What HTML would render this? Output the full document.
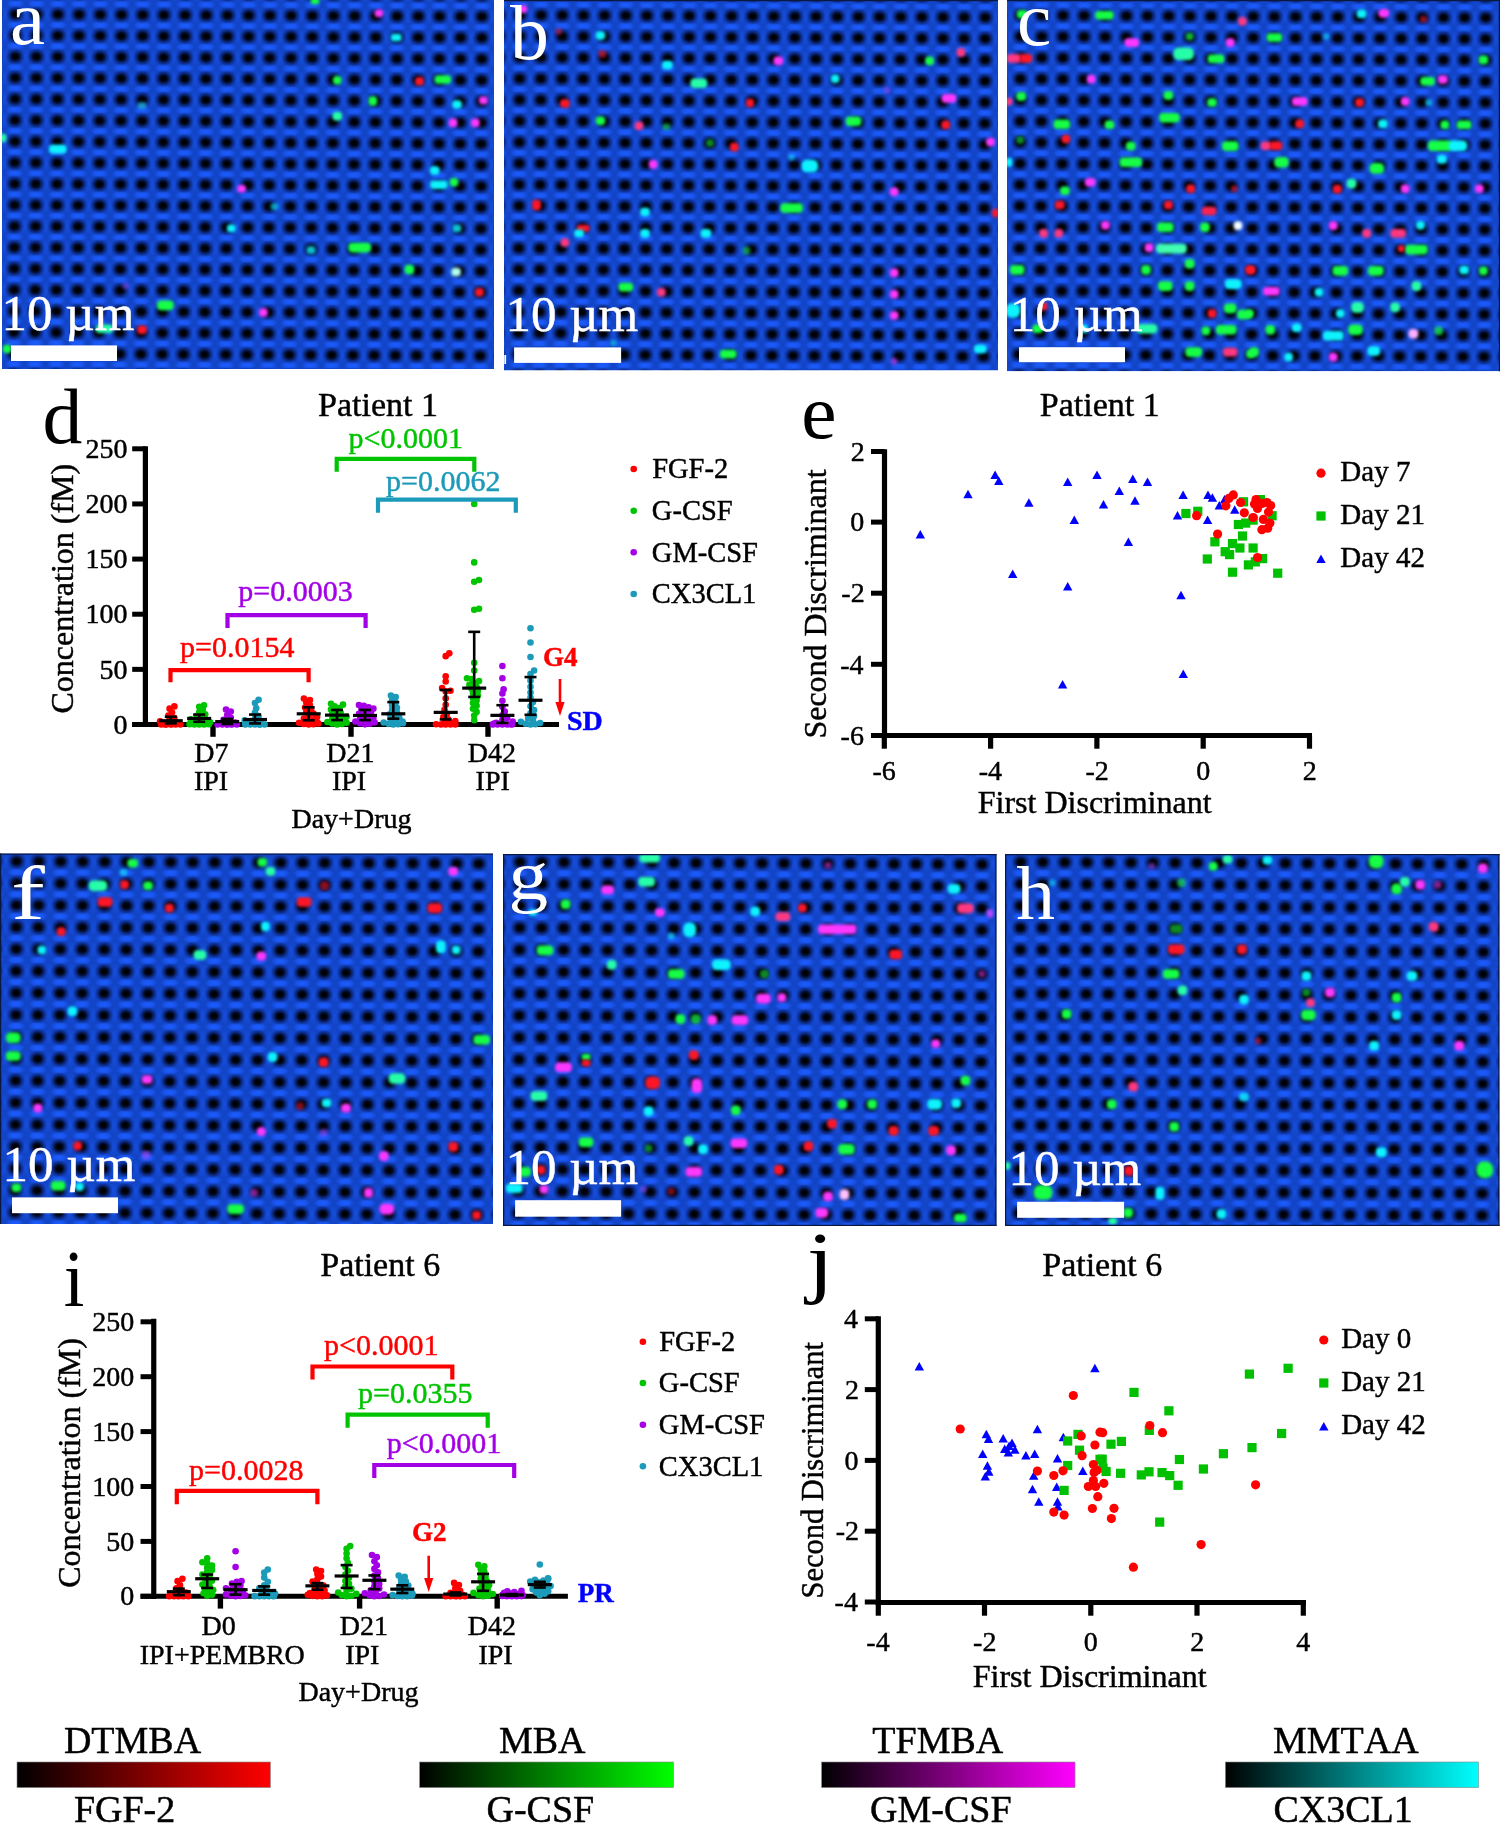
<!DOCTYPE html>
<html><head><meta charset="utf-8"><style>
html,body{margin:0;padding:0;background:#fff;}
body{width:1500px;height:1823px;overflow:hidden;}
svg{display:block;font-family:"Liberation Serif",serif;font-kerning:none;will-change:transform;}
text{stroke:currentColor;}
</style></head><body>
<svg width="1500" height="1823" viewBox="0 0 1500 1823">
<defs>
<radialGradient id="gHole"><stop offset="0" stop-color="#000" stop-opacity="0.92"/><stop offset="0.4" stop-color="#010620" stop-opacity="0.8"/><stop offset="0.7" stop-color="#041040" stop-opacity="0.42"/><stop offset="1" stop-color="#06104a" stop-opacity="0"/></radialGradient>
<radialGradient id="gLight"><stop offset="0" stop-color="#1c5cff" stop-opacity="1"/><stop offset="0.5" stop-color="#1c5cff" stop-opacity="0.75"/><stop offset="1" stop-color="#1c5cff" stop-opacity="0"/></radialGradient>
<radialGradient id="gLight2"><stop offset="0" stop-color="#164fe0" stop-opacity="0.9"/><stop offset="1" stop-color="#164fe0" stop-opacity="0"/></radialGradient>
<linearGradient id="gBandT" x1="0" x2="0" y1="0" y2="1"><stop offset="0" stop-color="#1c5cff" stop-opacity="0.85"/><stop offset="1" stop-color="#1c5cff" stop-opacity="0"/></linearGradient>
<linearGradient id="gBandB" x1="0" x2="0" y1="0" y2="1"><stop offset="0" stop-color="#1c5cff" stop-opacity="0"/><stop offset="1" stop-color="#1c5cff" stop-opacity="0.85"/></linearGradient>
<filter id="blurH" x="-50%" y="-50%" width="200%" height="200%"><feGaussianBlur stdDeviation="1.35"/></filter>
<filter id="blurS" x="-50%" y="-50%" width="200%" height="200%"><feGaussianBlur stdDeviation="1.8"/></filter>

<pattern id="pat_a" patternUnits="userSpaceOnUse" width="21.2" height="21.2" patternTransform="translate(15.5,14.2) rotate(0.3) translate(-10.6,-10.6)"><rect x="0" y="0" width="21.2" height="21.2" fill="#1244c6"/><ellipse cx="0" cy="10.6" rx="5" ry="9" fill="url(#gLight2)"/><ellipse cx="21.2" cy="10.6" rx="5" ry="9" fill="url(#gLight2)"/><ellipse cx="10.6" cy="0" rx="9.5" ry="4.6" fill="url(#gLight)"/><ellipse cx="10.6" cy="21.2" rx="9.5" ry="4.6" fill="url(#gLight)"/><ellipse cx="10.6" cy="10.6" rx="9.6" ry="8.8" fill="url(#gHole)"/><rect x="7.10" y="7.60" width="7.0" height="6.0" rx="1.6" fill="#000" filter="url(#blurH)"/></pattern>
<clipPath id="clip_a"><rect x="2" y="0" width="492" height="369"/></clipPath>
<pattern id="pat_b" patternUnits="userSpaceOnUse" width="21.15" height="21.2" patternTransform="translate(520,15) rotate(0.3) translate(-10.575,-10.6)"><rect x="0" y="0" width="21.15" height="21.2" fill="#1244c6"/><ellipse cx="0" cy="10.6" rx="5" ry="9" fill="url(#gLight2)"/><ellipse cx="21.15" cy="10.6" rx="5" ry="9" fill="url(#gLight2)"/><ellipse cx="10.575" cy="0" rx="9.5" ry="4.6" fill="url(#gLight)"/><ellipse cx="10.575" cy="21.2" rx="9.5" ry="4.6" fill="url(#gLight)"/><ellipse cx="10.575" cy="10.6" rx="9.6" ry="8.8" fill="url(#gHole)"/><rect x="7.07" y="7.60" width="7.0" height="6.0" rx="1.6" fill="#000" filter="url(#blurH)"/></pattern>
<clipPath id="clip_b"><rect x="504" y="0" width="494" height="370.5"/></clipPath>
<pattern id="pat_c" patternUnits="userSpaceOnUse" width="21.14" height="21.19" patternTransform="translate(1020.7,15.3) rotate(0.3) translate(-10.57,-10.595)"><rect x="0" y="0" width="21.14" height="21.19" fill="#1244c6"/><ellipse cx="0" cy="10.595" rx="5" ry="9" fill="url(#gLight2)"/><ellipse cx="21.14" cy="10.595" rx="5" ry="9" fill="url(#gLight2)"/><ellipse cx="10.57" cy="0" rx="9.5" ry="4.6" fill="url(#gLight)"/><ellipse cx="10.57" cy="21.19" rx="9.5" ry="4.6" fill="url(#gLight)"/><ellipse cx="10.57" cy="10.595" rx="9.6" ry="8.8" fill="url(#gHole)"/><rect x="7.07" y="7.60" width="7.0" height="6.0" rx="1.6" fill="#000" filter="url(#blurH)"/></pattern>
<clipPath id="clip_c"><rect x="1007" y="0" width="493" height="371.3"/></clipPath>
<pattern id="pat_f" patternUnits="userSpaceOnUse" width="22.0" height="21.94" patternTransform="translate(16.7,861.3) rotate(0.3) translate(-11.0,-10.97)"><rect x="0" y="0" width="22.0" height="21.94" fill="#1244c6"/><ellipse cx="0" cy="10.97" rx="5" ry="9" fill="url(#gLight2)"/><ellipse cx="22.0" cy="10.97" rx="5" ry="9" fill="url(#gLight2)"/><ellipse cx="11.0" cy="0" rx="9.5" ry="4.6" fill="url(#gLight)"/><ellipse cx="11.0" cy="21.94" rx="9.5" ry="4.6" fill="url(#gLight)"/><ellipse cx="11.0" cy="10.97" rx="9.6" ry="8.8" fill="url(#gHole)"/><rect x="7.50" y="7.97" width="7.0" height="6.0" rx="1.6" fill="#000" filter="url(#blurH)"/></pattern>
<clipPath id="clip_f"><rect x="0" y="853.5" width="493" height="370.5"/></clipPath>
<pattern id="pat_g" patternUnits="userSpaceOnUse" width="22.0" height="21.95" patternTransform="translate(520,862) rotate(0.3) translate(-11.0,-10.975)"><rect x="0" y="0" width="22.0" height="21.95" fill="#1244c6"/><ellipse cx="0" cy="10.975" rx="5" ry="9" fill="url(#gLight2)"/><ellipse cx="22.0" cy="10.975" rx="5" ry="9" fill="url(#gLight2)"/><ellipse cx="11.0" cy="0" rx="9.5" ry="4.6" fill="url(#gLight)"/><ellipse cx="11.0" cy="21.95" rx="9.5" ry="4.6" fill="url(#gLight)"/><ellipse cx="11.0" cy="10.975" rx="9.6" ry="8.8" fill="url(#gHole)"/><rect x="7.50" y="7.97" width="7.0" height="6.0" rx="1.6" fill="#000" filter="url(#blurH)"/></pattern>
<clipPath id="clip_g"><rect x="503" y="854" width="493.5" height="372"/></clipPath>
<pattern id="pat_h" patternUnits="userSpaceOnUse" width="22.05" height="21.95" patternTransform="translate(1020.7,862) rotate(0.28) translate(-11.025,-10.975)"><rect x="0" y="0" width="22.05" height="21.95" fill="#1244c6"/><ellipse cx="0" cy="10.975" rx="5" ry="9" fill="url(#gLight2)"/><ellipse cx="22.05" cy="10.975" rx="5" ry="9" fill="url(#gLight2)"/><ellipse cx="11.025" cy="0" rx="9.5" ry="4.6" fill="url(#gLight)"/><ellipse cx="11.025" cy="21.95" rx="9.5" ry="4.6" fill="url(#gLight)"/><ellipse cx="11.025" cy="10.975" rx="9.6" ry="8.8" fill="url(#gHole)"/><rect x="7.53" y="7.97" width="7.0" height="6.0" rx="1.6" fill="#000" filter="url(#blurH)"/></pattern>
<clipPath id="clip_h"><rect x="1005" y="854" width="494.5" height="372"/></clipPath>
<linearGradient id="cb0" x1="0" x2="1" y1="0" y2="0"><stop offset="0" stop-color="#000"/><stop offset="1" stop-color="#ff0000"/></linearGradient>
<linearGradient id="cb1" x1="0" x2="1" y1="0" y2="0"><stop offset="0" stop-color="#000"/><stop offset="1" stop-color="#00ff00"/></linearGradient>
<linearGradient id="cb2" x1="0" x2="1" y1="0" y2="0"><stop offset="0" stop-color="#000"/><stop offset="1" stop-color="#ff00ff"/></linearGradient>
<linearGradient id="cb3" x1="0" x2="1" y1="0" y2="0"><stop offset="0" stop-color="#000"/><stop offset="1" stop-color="#00ffff"/></linearGradient></defs>
<g clip-path="url(#clip_a)">
<rect x="2" y="0" width="492" height="369" fill="url(#pat_a)"/>
<rect x="49.0" y="144.8" width="17.6" height="8.6" rx="3.7" fill="#10f4ff" filter="url(#blurS)"/>
<rect x="137.7" y="102.2" width="8.6" height="6.6" rx="2.8" fill="#20c0e0" opacity="0.7" filter="url(#blurS)"/>
<rect x="-0.3" y="133.7" width="6.6" height="8.6" rx="2.8" fill="#28ffa8" filter="url(#blurS)"/>
<rect x="237.2" y="184.9" width="8.6" height="7.6" rx="3.2" fill="#ff38ff" filter="url(#blurS)"/>
<rect x="227.0" y="224.5" width="8.6" height="7.6" rx="3.2" fill="#10f4ff" filter="url(#blurS)"/>
<rect x="122.5" y="282.7" width="6.6" height="6.6" rx="2.8" fill="#b048ff" opacity="0.4" filter="url(#blurS)"/>
<rect x="157.1" y="300.6" width="16.6" height="9.6" rx="4.1" fill="#14ff44" filter="url(#blurS)"/>
<rect x="95.7" y="324.4" width="17.6" height="8.6" rx="3.7" fill="#28ffa8" filter="url(#blurS)"/>
<rect x="137.2" y="325.4" width="9.6" height="8.6" rx="3.7" fill="#ff1428" filter="url(#blurS)"/>
<rect x="2.8" y="344.7" width="8.6" height="8.6" rx="3.7" fill="#14ff44" filter="url(#blurS)"/>
<rect x="310.7" y="-2.3" width="8.6" height="6.6" rx="2.8" fill="#14ff44" filter="url(#blurS)"/>
<rect x="374.7" y="9.4" width="8.6" height="7.6" rx="3.2" fill="#ff38ff" filter="url(#blurS)"/>
<rect x="390.9" y="33.7" width="10.6" height="7.6" rx="3.2" fill="#10f4ff" filter="url(#blurS)"/>
<rect x="333.0" y="75.9" width="8.6" height="8.6" rx="3.7" fill="#14ff44" filter="url(#blurS)"/>
<rect x="415.2" y="76.9" width="8.6" height="8.6" rx="3.7" fill="#ff1428" filter="url(#blurS)"/>
<rect x="434.5" y="75.2" width="16.6" height="8.6" rx="3.7" fill="#14ff44" filter="url(#blurS)"/>
<rect x="368.5" y="96.2" width="8.6" height="9.6" rx="3.7" fill="#14ff44" filter="url(#blurS)"/>
<rect x="452.2" y="100.2" width="9.6" height="8.6" rx="3.7" fill="#10f4ff" filter="url(#blurS)"/>
<rect x="479.1" y="96.6" width="8.6" height="7.6" rx="3.2" fill="#ff38ff" filter="url(#blurS)"/>
<rect x="332.5" y="111.8" width="9.6" height="8.6" rx="3.7" fill="#28ffa8" filter="url(#blurS)"/>
<rect x="448.7" y="118.5" width="8.6" height="8.6" rx="3.7" fill="#ff38ff" filter="url(#blurS)"/>
<rect x="471.0" y="118.5" width="8.6" height="8.6" rx="3.7" fill="#ff38ff" filter="url(#blurS)"/>
<rect x="429.9" y="166.2" width="9.6" height="8.6" rx="3.7" fill="#10f4ff" filter="url(#blurS)"/>
<rect x="430.0" y="180.4" width="17.6" height="8.6" rx="3.7" fill="#10f4ff" filter="url(#blurS)"/>
<rect x="449.7" y="177.9" width="8.6" height="8.6" rx="3.7" fill="#14ff44" filter="url(#blurS)"/>
<rect x="270.6" y="203.3" width="7.6" height="6.6" rx="2.8" fill="#10f4ff" opacity="0.6" filter="url(#blurS)"/>
<rect x="452.7" y="224.5" width="8.6" height="7.6" rx="3.2" fill="#10f4ff" opacity="0.8" filter="url(#blurS)"/>
<rect x="306.7" y="246.2" width="8.6" height="7.6" rx="3.2" fill="#10f4ff" opacity="0.8" filter="url(#blurS)"/>
<rect x="348.4" y="242.8" width="22.6" height="9.6" rx="4.1" fill="#14ff44" filter="url(#blurS)"/>
<rect x="404.6" y="264.7" width="9.6" height="9.6" rx="4.1" fill="#14ff44" filter="url(#blurS)"/>
<rect x="451.2" y="267.7" width="9.6" height="8.6" rx="3.7" fill="#b0fff0" filter="url(#blurS)"/>
<rect x="475.1" y="287.9" width="8.6" height="8.6" rx="3.7" fill="#ff1428" filter="url(#blurS)"/>
<rect x="259.0" y="308.2" width="8.6" height="8.6" rx="3.7" fill="#ff38ff" filter="url(#blurS)"/>
</g>
<g clip-path="url(#clip_b)">
<rect x="504" y="0" width="494" height="370.5" fill="url(#pat_b)"/>
<rect x="519.5" y="5.3" width="7.6" height="7.6" rx="3.2" fill="#ff38ff" filter="url(#blurS)"/>
<rect x="555.5" y="28.2" width="6.6" height="6.6" rx="2.8" fill="#ff1428" opacity="0.5" filter="url(#blurS)"/>
<rect x="595.6" y="31.2" width="9.6" height="8.6" rx="3.7" fill="#10f4ff" filter="url(#blurS)"/>
<rect x="598.6" y="50.0" width="7.6" height="7.6" rx="3.2" fill="#ff1428" opacity="0.6" filter="url(#blurS)"/>
<rect x="662.1" y="60.7" width="10.6" height="8.6" rx="3.7" fill="#10f4ff" filter="url(#blurS)"/>
<rect x="690.5" y="78.4" width="16.6" height="9.6" rx="4.1" fill="#28ffa8" filter="url(#blurS)"/>
<rect x="560.1" y="99.2" width="9.6" height="8.6" rx="3.7" fill="#ff1428" filter="url(#blurS)"/>
<rect x="746.2" y="98.7" width="7.6" height="8.6" rx="3.2" fill="#ff1428" filter="url(#blurS)"/>
<rect x="595.6" y="116.4" width="9.6" height="8.6" rx="3.7" fill="#14ff44" filter="url(#blurS)"/>
<rect x="634.7" y="121.5" width="8.6" height="8.6" rx="3.7" fill="#ff3880" filter="url(#blurS)"/>
<rect x="662.6" y="123.5" width="7.6" height="6.6" rx="2.8" fill="#14ff44" opacity="0.5" filter="url(#blurS)"/>
<rect x="706.2" y="139.2" width="7.6" height="7.6" rx="3.2" fill="#0a8a20" filter="url(#blurS)"/>
<rect x="730.0" y="142.8" width="8.6" height="8.6" rx="3.7" fill="#ff1428" filter="url(#blurS)"/>
<rect x="648.9" y="160.1" width="8.6" height="8.6" rx="3.7" fill="#ff38ff" filter="url(#blurS)"/>
<rect x="532.2" y="199.7" width="8.6" height="10.6" rx="3.7" fill="#ff1428" filter="url(#blurS)"/>
<rect x="640.2" y="207.7" width="9.6" height="8.6" rx="3.7" fill="#10f4ff" filter="url(#blurS)"/>
<rect x="576.9" y="225.0" width="12.6" height="6.6" rx="2.8" fill="#ff1428" filter="url(#blurS)"/>
<rect x="574.3" y="229.6" width="9.6" height="7.6" rx="3.2" fill="#10f4ff" filter="url(#blurS)"/>
<rect x="560.6" y="238.2" width="8.6" height="8.6" rx="3.7" fill="#ff3880" filter="url(#blurS)"/>
<rect x="640.2" y="229.1" width="9.6" height="8.6" rx="3.7" fill="#10f4ff" filter="url(#blurS)"/>
<rect x="700.6" y="229.1" width="10.6" height="8.6" rx="3.7" fill="#10f4ff" filter="url(#blurS)"/>
<rect x="742.7" y="246.8" width="7.6" height="7.6" rx="3.2" fill="#14ff44" opacity="0.5" filter="url(#blurS)"/>
<rect x="618.5" y="282.8" width="14.6" height="8.6" rx="3.7" fill="#14ff44" filter="url(#blurS)"/>
<rect x="657.0" y="287.9" width="8.6" height="8.6" rx="3.7" fill="#ff3880" filter="url(#blurS)"/>
<rect x="719.9" y="349.8" width="16.6" height="8.6" rx="3.7" fill="#14ff44" filter="url(#blurS)"/>
<rect x="610.3" y="339.7" width="6.6" height="6.6" rx="2.8" fill="#10f4ff" opacity="0.5" filter="url(#blurS)"/>
<rect x="773.6" y="56.6" width="9.6" height="8.6" rx="3.7" fill="#ff38ff" filter="url(#blurS)"/>
<rect x="956.7" y="48.1" width="8.6" height="8.6" rx="3.7" fill="#ff3880" filter="url(#blurS)"/>
<rect x="925.3" y="56.6" width="8.6" height="8.6" rx="3.7" fill="#14ff44" filter="url(#blurS)"/>
<rect x="830.9" y="74.4" width="8.6" height="8.6" rx="3.7" fill="#10f4ff" filter="url(#blurS)"/>
<rect x="883.7" y="87.0" width="6.6" height="6.6" rx="2.8" fill="#b048ff" opacity="0.5" filter="url(#blurS)"/>
<rect x="941.6" y="94.1" width="14.6" height="8.6" rx="3.7" fill="#ff38ff" filter="url(#blurS)"/>
<rect x="845.7" y="116.5" width="15.6" height="9.6" rx="4.1" fill="#14ff44" filter="url(#blurS)"/>
<rect x="941.5" y="120.5" width="8.6" height="8.6" rx="3.7" fill="#ff1428" filter="url(#blurS)"/>
<rect x="986.2" y="137.7" width="8.6" height="8.6" rx="3.7" fill="#ff38ff" filter="url(#blurS)"/>
<rect x="801.6" y="159.7" width="16.6" height="12.6" rx="5.4" fill="#10f4ff" filter="url(#blurS)"/>
<rect x="788.3" y="154.0" width="6.6" height="6.6" rx="2.8" fill="#10f4ff" opacity="0.5" filter="url(#blurS)"/>
<rect x="889.8" y="187.5" width="8.6" height="8.6" rx="3.7" fill="#ff38ff" filter="url(#blurS)"/>
<rect x="780.3" y="203.2" width="22.6" height="9.6" rx="4.1" fill="#14ff44" filter="url(#blurS)"/>
<rect x="992.2" y="208.7" width="6.6" height="8.6" rx="2.8" fill="#ff1428" filter="url(#blurS)"/>
<rect x="889.8" y="268.6" width="8.6" height="8.6" rx="3.7" fill="#ff38ff" filter="url(#blurS)"/>
<rect x="889.8" y="289.9" width="8.6" height="8.6" rx="3.7" fill="#ff38ff" filter="url(#blurS)"/>
<rect x="889.8" y="311.2" width="8.6" height="8.6" rx="3.7" fill="#ff38ff" filter="url(#blurS)"/>
<rect x="974.0" y="344.7" width="12.6" height="8.6" rx="3.7" fill="#10f4ff" filter="url(#blurS)"/>
<rect x="890.8" y="357.9" width="6.6" height="6.6" rx="2.8" fill="#ff38ff" opacity="0.5" filter="url(#blurS)"/>
</g>
<rect x="504.00" y="0.00" width="494.00" height="1.20" fill="#0a1840"/>
<g clip-path="url(#clip_c)">
<rect x="1007" y="0" width="493" height="371.3" fill="url(#pat_c)"/>
<rect x="1016.9" y="9.9" width="10.6" height="8.6" rx="3.7" fill="#14ff44" filter="url(#blurS)"/>
<rect x="1095.1" y="10.9" width="18.6" height="8.6" rx="3.7" fill="#14ff44" filter="url(#blurS)"/>
<rect x="1238.1" y="17.0" width="8.6" height="8.6" rx="3.7" fill="#ff3880" filter="url(#blurS)"/>
<rect x="1124.5" y="38.3" width="14.6" height="8.6" rx="3.7" fill="#ff38ff" filter="url(#blurS)"/>
<rect x="1185.9" y="32.7" width="7.6" height="7.6" rx="3.2" fill="#14ff44" opacity="0.7" filter="url(#blurS)"/>
<rect x="1225.9" y="38.3" width="8.6" height="8.6" rx="3.7" fill="#ff38ff" filter="url(#blurS)"/>
<rect x="1006.7" y="54.1" width="14.6" height="8.6" rx="3.7" fill="#ff3880" filter="url(#blurS)"/>
<rect x="1019.7" y="54.1" width="12.6" height="8.6" rx="3.7" fill="#ff1428" filter="url(#blurS)"/>
<rect x="1173.3" y="47.5" width="20.6" height="12.6" rx="5.4" fill="#28ffa8" filter="url(#blurS)"/>
<rect x="1207.7" y="54.5" width="16.6" height="8.6" rx="3.7" fill="#14ff44" filter="url(#blurS)"/>
<rect x="1086.9" y="74.8" width="8.6" height="8.6" rx="3.7" fill="#ff38ff" filter="url(#blurS)"/>
<rect x="1016.4" y="92.1" width="9.6" height="8.6" rx="3.7" fill="#14ff44" filter="url(#blurS)"/>
<rect x="1005.7" y="97.7" width="6.6" height="7.6" rx="2.8" fill="#ff3880" filter="url(#blurS)"/>
<rect x="1163.6" y="91.1" width="9.6" height="8.6" rx="3.7" fill="#14ff44" filter="url(#blurS)"/>
<rect x="1207.2" y="98.2" width="9.6" height="8.6" rx="3.7" fill="#14ff44" filter="url(#blurS)"/>
<rect x="1053.5" y="119.4" width="16.6" height="9.6" rx="4.1" fill="#14ff44" filter="url(#blurS)"/>
<rect x="1104.7" y="120.5" width="9.6" height="8.6" rx="3.7" fill="#14ff44" filter="url(#blurS)"/>
<rect x="1159.1" y="112.9" width="20.6" height="9.6" rx="4.1" fill="#14ff44" filter="url(#blurS)"/>
<rect x="1061.6" y="134.7" width="8.6" height="8.6" rx="3.7" fill="#ff1428" filter="url(#blurS)"/>
<rect x="1016.4" y="136.2" width="7.6" height="7.6" rx="3.2" fill="#0a8a20" filter="url(#blurS)"/>
<rect x="1126.0" y="141.8" width="9.6" height="8.6" rx="3.7" fill="#14ff44" filter="url(#blurS)"/>
<rect x="1221.9" y="141.3" width="16.6" height="9.6" rx="4.1" fill="#14ff44" filter="url(#blurS)"/>
<rect x="1005.7" y="158.0" width="6.6" height="8.6" rx="2.8" fill="#10f4ff" filter="url(#blurS)"/>
<rect x="1119.5" y="157.5" width="22.6" height="9.6" rx="4.1" fill="#14ff44" filter="url(#blurS)"/>
<rect x="1084.9" y="177.9" width="10.6" height="8.6" rx="3.7" fill="#ff38ff" filter="url(#blurS)"/>
<rect x="1060.1" y="186.4" width="9.6" height="8.6" rx="3.7" fill="#14ff44" filter="url(#blurS)"/>
<rect x="1186.4" y="184.4" width="8.6" height="8.6" rx="3.7" fill="#ff1428" filter="url(#blurS)"/>
<rect x="1231.0" y="185.4" width="6.6" height="6.6" rx="2.8" fill="#ff1428" opacity="0.6" filter="url(#blurS)"/>
<rect x="1055.0" y="200.7" width="9.6" height="8.6" rx="3.7" fill="#ff1428" filter="url(#blurS)"/>
<rect x="1164.1" y="200.7" width="8.6" height="8.6" rx="3.7" fill="#ff1428" filter="url(#blurS)"/>
<rect x="1201.7" y="206.7" width="14.6" height="8.6" rx="3.7" fill="#ff2050" filter="url(#blurS)"/>
<rect x="1101.1" y="220.9" width="8.6" height="8.6" rx="3.7" fill="#ff38ff" filter="url(#blurS)"/>
<rect x="1157.0" y="222.5" width="16.6" height="9.6" rx="4.1" fill="#14ff44" filter="url(#blurS)"/>
<rect x="1200.1" y="222.5" width="9.6" height="9.6" rx="4.1" fill="#14ff44" filter="url(#blurS)"/>
<rect x="1233.7" y="221.3" width="8.6" height="8.6" rx="3.7" fill="#f4ffff" filter="url(#blurS)"/>
<rect x="1039.3" y="229.1" width="8.6" height="8.6" rx="3.7" fill="#ff3880" filter="url(#blurS)"/>
<rect x="1054.5" y="229.1" width="8.6" height="8.6" rx="3.7" fill="#ff3880" filter="url(#blurS)"/>
<rect x="1144.8" y="243.3" width="8.6" height="8.6" rx="3.7" fill="#ff38ff" filter="url(#blurS)"/>
<rect x="1156.1" y="243.8" width="30.6" height="9.6" rx="4.1" fill="#40ffb0" filter="url(#blurS)"/>
<rect x="1009.9" y="265.1" width="14.6" height="9.6" rx="4.1" fill="#14ff44" filter="url(#blurS)"/>
<rect x="1141.2" y="265.1" width="9.6" height="9.6" rx="4.1" fill="#14ff44" filter="url(#blurS)"/>
<rect x="1184.9" y="259.0" width="9.6" height="9.6" rx="4.1" fill="#14ff44" filter="url(#blurS)"/>
<rect x="1245.2" y="265.6" width="8.6" height="8.6" rx="3.7" fill="#ff1428" filter="url(#blurS)"/>
<rect x="1158.0" y="281.3" width="14.6" height="9.6" rx="4.1" fill="#14ff44" filter="url(#blurS)"/>
<rect x="1184.9" y="281.3" width="9.6" height="9.6" rx="4.1" fill="#14ff44" filter="url(#blurS)"/>
<rect x="1225.0" y="279.3" width="16.6" height="9.6" rx="4.1" fill="#10f4ff" filter="url(#blurS)"/>
<rect x="1005.8" y="303.2" width="14.6" height="14.6" rx="6.2" fill="#10f4ff" filter="url(#blurS)"/>
<rect x="1039.8" y="302.6" width="7.6" height="7.6" rx="3.2" fill="#ff1428" filter="url(#blurS)"/>
<rect x="1032.2" y="324.4" width="10.6" height="8.6" rx="3.7" fill="#14ff44" filter="url(#blurS)"/>
<rect x="1223.9" y="303.6" width="12.6" height="9.6" rx="4.1" fill="#14ff44" filter="url(#blurS)"/>
<rect x="1237.1" y="309.7" width="14.6" height="9.6" rx="4.1" fill="#14ff44" filter="url(#blurS)"/>
<rect x="1207.7" y="309.2" width="8.6" height="8.6" rx="3.7" fill="#ff1428" filter="url(#blurS)"/>
<rect x="1136.7" y="323.9" width="20.6" height="9.6" rx="4.1" fill="#28ffa8" filter="url(#blurS)"/>
<rect x="1215.9" y="324.9" width="20.6" height="9.6" rx="4.1" fill="#14ff44" filter="url(#blurS)"/>
<rect x="1201.6" y="326.5" width="8.6" height="8.6" rx="3.7" fill="#14ff44" filter="url(#blurS)"/>
<rect x="1185.4" y="347.3" width="16.6" height="9.6" rx="4.1" fill="#14ff44" filter="url(#blurS)"/>
<rect x="1222.9" y="347.8" width="14.6" height="8.6" rx="3.7" fill="#ff3880" filter="url(#blurS)"/>
<rect x="1246.2" y="349.7" width="8.6" height="8.6" rx="3.7" fill="#14ff44" filter="url(#blurS)"/>
<rect x="1079.7" y="324.4" width="8.6" height="8.6" rx="3.7" fill="#10f4ff" filter="url(#blurS)"/>
<rect x="1356.8" y="9.5" width="9.6" height="8.6" rx="3.7" fill="#10f4ff" filter="url(#blurS)"/>
<rect x="1378.6" y="8.9" width="10.6" height="8.6" rx="3.7" fill="#ff38ff" filter="url(#blurS)"/>
<rect x="1420.2" y="16.0" width="6.6" height="6.6" rx="2.8" fill="#ff1428" opacity="0.6" filter="url(#blurS)"/>
<rect x="1266.6" y="33.2" width="15.6" height="8.6" rx="3.7" fill="#14ff44" filter="url(#blurS)"/>
<rect x="1322.8" y="33.2" width="6.6" height="6.6" rx="2.8" fill="#10f4ff" opacity="0.5" filter="url(#blurS)"/>
<rect x="1478.6" y="55.6" width="9.6" height="8.6" rx="3.7" fill="#14ff44" filter="url(#blurS)"/>
<rect x="1420.3" y="76.9" width="14.6" height="8.6" rx="3.7" fill="#14ff44" filter="url(#blurS)"/>
<rect x="1438.0" y="75.2" width="9.6" height="8.6" rx="3.7" fill="#ff38ff" filter="url(#blurS)"/>
<rect x="1291.9" y="97.2" width="15.6" height="8.6" rx="3.7" fill="#ff38ff" filter="url(#blurS)"/>
<rect x="1355.3" y="98.2" width="8.6" height="8.6" rx="3.7" fill="#ff1428" filter="url(#blurS)"/>
<rect x="1400.9" y="97.2" width="8.6" height="8.6" rx="3.7" fill="#ff38ff" filter="url(#blurS)"/>
<rect x="1425.3" y="99.2" width="6.6" height="6.6" rx="2.8" fill="#10f4ff" opacity="0.6" filter="url(#blurS)"/>
<rect x="1295.4" y="119.5" width="8.6" height="8.6" rx="3.7" fill="#ff1428" filter="url(#blurS)"/>
<rect x="1378.1" y="119.5" width="9.6" height="8.6" rx="3.7" fill="#10f4ff" filter="url(#blurS)"/>
<rect x="1440.5" y="120.5" width="8.6" height="8.6" rx="3.7" fill="#14ff44" filter="url(#blurS)"/>
<rect x="1456.8" y="120.5" width="14.6" height="8.6" rx="3.7" fill="#14ff44" filter="url(#blurS)"/>
<rect x="1260.7" y="141.4" width="10.6" height="8.6" rx="3.7" fill="#ff3880" filter="url(#blurS)"/>
<rect x="1269.7" y="141.4" width="12.6" height="8.6" rx="3.7" fill="#ff1428" filter="url(#blurS)"/>
<rect x="1427.7" y="140.4" width="24.6" height="10.6" rx="4.5" fill="#14ff44" filter="url(#blurS)"/>
<rect x="1448.7" y="140.4" width="18.6" height="10.6" rx="4.5" fill="#10f4ff" filter="url(#blurS)"/>
<rect x="1274.2" y="157.0" width="14.6" height="10.6" rx="4.5" fill="#14ff44" filter="url(#blurS)"/>
<rect x="1369.5" y="163.1" width="14.6" height="10.6" rx="4.5" fill="#14ff44" filter="url(#blurS)"/>
<rect x="1437.0" y="155.0" width="9.6" height="8.6" rx="3.7" fill="#10f4ff" filter="url(#blurS)"/>
<rect x="1346.7" y="178.8" width="9.6" height="9.6" rx="4.1" fill="#28ffa8" filter="url(#blurS)"/>
<rect x="1333.0" y="184.8" width="8.6" height="8.6" rx="3.7" fill="#ff1428" filter="url(#blurS)"/>
<rect x="1400.9" y="184.4" width="8.6" height="8.6" rx="3.7" fill="#ff38ff" filter="url(#blurS)"/>
<rect x="1475.0" y="184.4" width="8.6" height="8.6" rx="3.7" fill="#ff38ff" filter="url(#blurS)"/>
<rect x="1328.9" y="221.3" width="8.6" height="8.6" rx="3.7" fill="#ff38ff" filter="url(#blurS)"/>
<rect x="1362.4" y="229.1" width="8.6" height="8.6" rx="3.7" fill="#ff3880" filter="url(#blurS)"/>
<rect x="1390.3" y="229.1" width="15.6" height="8.6" rx="3.7" fill="#ff3880" filter="url(#blurS)"/>
<rect x="1416.2" y="220.9" width="8.6" height="8.6" rx="3.7" fill="#10f4ff" filter="url(#blurS)"/>
<rect x="1405.1" y="244.8" width="22.6" height="9.6" rx="4.1" fill="#14ff44" filter="url(#blurS)"/>
<rect x="1397.9" y="245.3" width="6.6" height="6.6" rx="2.8" fill="#ff1428" filter="url(#blurS)"/>
<rect x="1248.7" y="266.2" width="6.6" height="7.6" rx="2.8" fill="#ff1428" filter="url(#blurS)"/>
<rect x="1332.5" y="266.1" width="15.6" height="9.6" rx="4.1" fill="#14ff44" filter="url(#blurS)"/>
<rect x="1368.0" y="266.1" width="15.6" height="9.6" rx="4.1" fill="#14ff44" filter="url(#blurS)"/>
<rect x="1459.3" y="265.7" width="9.6" height="8.6" rx="3.7" fill="#10f4ff" filter="url(#blurS)"/>
<rect x="1479.1" y="266.6" width="8.6" height="8.6" rx="3.7" fill="#14ff44" filter="url(#blurS)"/>
<rect x="1263.0" y="286.9" width="16.6" height="8.6" rx="3.7" fill="#ff38ff" filter="url(#blurS)"/>
<rect x="1314.7" y="287.9" width="8.6" height="8.6" rx="3.7" fill="#10f4ff" filter="url(#blurS)"/>
<rect x="1411.6" y="281.3" width="9.6" height="9.6" rx="4.1" fill="#28ffa8" filter="url(#blurS)"/>
<rect x="1351.2" y="302.1" width="12.6" height="10.6" rx="4.5" fill="#28ffa8" filter="url(#blurS)"/>
<rect x="1390.3" y="302.6" width="9.6" height="9.6" rx="4.1" fill="#28ffa8" filter="url(#blurS)"/>
<rect x="1336.0" y="309.2" width="8.6" height="8.6" rx="3.7" fill="#10f4ff" filter="url(#blurS)"/>
<rect x="1265.5" y="324.9" width="9.6" height="9.6" rx="4.1" fill="#14ff44" filter="url(#blurS)"/>
<rect x="1291.9" y="323.4" width="9.6" height="8.6" rx="3.7" fill="#10f4ff" filter="url(#blurS)"/>
<rect x="1322.9" y="331.0" width="20.6" height="9.6" rx="4.1" fill="#10f4ff" filter="url(#blurS)"/>
<rect x="1348.2" y="324.4" width="14.6" height="10.6" rx="4.5" fill="#14ff44" filter="url(#blurS)"/>
<rect x="1408.6" y="329.0" width="9.6" height="9.6" rx="4.1" fill="#ffb0ff" filter="url(#blurS)"/>
<rect x="1434.4" y="326.5" width="8.6" height="8.6" rx="3.7" fill="#14ff44" opacity="0.7" filter="url(#blurS)"/>
<rect x="1249.3" y="347.3" width="9.6" height="9.6" rx="4.1" fill="#14ff44" filter="url(#blurS)"/>
<rect x="1284.3" y="352.8" width="8.6" height="8.6" rx="3.7" fill="#10f4ff" filter="url(#blurS)"/>
<rect x="1328.9" y="352.8" width="8.6" height="8.6" rx="3.7" fill="#ff38ff" filter="url(#blurS)"/>
<rect x="1367.5" y="346.2" width="12.6" height="9.6" rx="4.1" fill="#10f4ff" filter="url(#blurS)"/>
<rect x="1246.9" y="309.7" width="6.6" height="7.6" rx="2.8" fill="#14ff44" filter="url(#blurS)"/>
</g>
<rect x="1007.00" y="0.00" width="493.00" height="1.20" fill="#0a1840"/>
<rect x="1498.80" y="0.00" width="1.20" height="371.30" fill="#0a1840"/>
<g clip-path="url(#clip_f)">
<rect x="0" y="853.5" width="493" height="370.5" fill="url(#pat_f)"/>
<rect x="127.4" y="858.9" width="10.6" height="8.6" rx="3.7" fill="#14ff44" filter="url(#blurS)"/>
<rect x="119.7" y="869.1" width="7.6" height="6.6" rx="2.8" fill="#10f4ff" opacity="0.6" filter="url(#blurS)"/>
<rect x="88.7" y="880.4" width="18.6" height="10.6" rx="4.5" fill="#28ffa8" filter="url(#blurS)"/>
<rect x="120.2" y="880.3" width="8.6" height="8.6" rx="3.7" fill="#ff1428" filter="url(#blurS)"/>
<rect x="143.2" y="881.4" width="9.6" height="8.6" rx="3.7" fill="#14ff44" filter="url(#blurS)"/>
<rect x="97.8" y="897.2" width="14.6" height="9.6" rx="4.1" fill="#ff1428" filter="url(#blurS)"/>
<rect x="165.1" y="903.8" width="8.6" height="8.6" rx="3.7" fill="#ff1428" filter="url(#blurS)"/>
<rect x="56.9" y="927.3" width="8.6" height="8.6" rx="3.7" fill="#ff1428" filter="url(#blurS)"/>
<rect x="37.5" y="945.7" width="8.6" height="8.6" rx="3.7" fill="#10f4ff" filter="url(#blurS)"/>
<rect x="193.7" y="950.2" width="12.6" height="9.6" rx="4.1" fill="#28ffa8" filter="url(#blurS)"/>
<rect x="67.6" y="1006.4" width="9.6" height="9.6" rx="4.1" fill="#10f4ff" filter="url(#blurS)"/>
<rect x="6.0" y="1032.4" width="14.6" height="10.6" rx="4.5" fill="#14ff44" filter="url(#blurS)"/>
<rect x="6.0" y="1051.2" width="14.6" height="9.6" rx="4.1" fill="#14ff44" filter="url(#blurS)"/>
<rect x="141.7" y="1075.2" width="10.6" height="8.6" rx="3.7" fill="#ff38ff" filter="url(#blurS)"/>
<rect x="33.5" y="1103.8" width="8.6" height="8.6" rx="3.7" fill="#ff38ff" filter="url(#blurS)"/>
<rect x="73.3" y="1141.6" width="8.6" height="8.6" rx="3.7" fill="#ff1428" filter="url(#blurS)"/>
<rect x="141.7" y="1150.7" width="8.6" height="8.6" rx="3.7" fill="#b048ff" opacity="0.6" filter="url(#blurS)"/>
<rect x="11.5" y="1183.4" width="9.6" height="8.6" rx="3.7" fill="#14ff44" filter="url(#blurS)"/>
<rect x="50.9" y="1180.9" width="14.6" height="9.6" rx="4.1" fill="#14ff44" filter="url(#blurS)"/>
<rect x="75.3" y="1182.4" width="8.6" height="8.6" rx="3.7" fill="#10f4ff" filter="url(#blurS)"/>
<rect x="227.4" y="1204.3" width="16.6" height="9.6" rx="4.1" fill="#14ff44" filter="url(#blurS)"/>
<rect x="257.5" y="857.9" width="9.6" height="8.6" rx="3.7" fill="#14ff44" filter="url(#blurS)"/>
<rect x="265.7" y="867.1" width="9.6" height="8.6" rx="3.7" fill="#28ffa8" filter="url(#blurS)"/>
<rect x="448.4" y="867.1" width="9.6" height="8.6" rx="3.7" fill="#ff38ff" filter="url(#blurS)"/>
<rect x="320.3" y="881.4" width="8.6" height="8.6" rx="3.7" fill="#901020" filter="url(#blurS)"/>
<rect x="296.9" y="897.2" width="14.6" height="9.6" rx="4.1" fill="#ff1428" filter="url(#blurS)"/>
<rect x="427.5" y="903.3" width="14.6" height="9.6" rx="4.1" fill="#ff1428" filter="url(#blurS)"/>
<rect x="261.1" y="921.7" width="8.6" height="9.6" rx="3.7" fill="#10f4ff" filter="url(#blurS)"/>
<rect x="256.5" y="951.8" width="9.6" height="8.6" rx="3.7" fill="#ff38ff" filter="url(#blurS)"/>
<rect x="436.1" y="940.6" width="9.6" height="12.6" rx="4.1" fill="#10f4ff" filter="url(#blurS)"/>
<rect x="451.9" y="945.7" width="8.6" height="8.6" rx="3.7" fill="#10f4ff" filter="url(#blurS)"/>
<rect x="473.4" y="1034.9" width="16.6" height="9.6" rx="4.1" fill="#14ff44" filter="url(#blurS)"/>
<rect x="267.8" y="1052.3" width="9.6" height="9.6" rx="4.1" fill="#10f4ff" filter="url(#blurS)"/>
<rect x="318.8" y="1057.4" width="9.6" height="9.6" rx="4.1" fill="#ff1428" filter="url(#blurS)"/>
<rect x="388.7" y="1073.2" width="16.6" height="10.6" rx="4.5" fill="#28ffa8" filter="url(#blurS)"/>
<rect x="296.3" y="1102.3" width="7.6" height="7.6" rx="3.2" fill="#ff1428" opacity="0.5" filter="url(#blurS)"/>
<rect x="321.8" y="1098.7" width="9.6" height="8.6" rx="3.7" fill="#10f4ff" filter="url(#blurS)"/>
<rect x="341.2" y="1103.8" width="9.6" height="8.6" rx="3.7" fill="#ff38ff" filter="url(#blurS)"/>
<rect x="257.0" y="1127.3" width="8.6" height="8.6" rx="3.7" fill="#ff38ff" filter="url(#blurS)"/>
<rect x="319.8" y="1128.8" width="7.6" height="7.6" rx="3.2" fill="#b048ff" opacity="0.5" filter="url(#blurS)"/>
<rect x="448.4" y="1142.1" width="9.6" height="9.6" rx="4.1" fill="#ff1428" filter="url(#blurS)"/>
<rect x="379.0" y="1151.3" width="9.6" height="9.6" rx="4.1" fill="#ff38ff" filter="url(#blurS)"/>
<rect x="250.4" y="1189.0" width="7.6" height="7.6" rx="3.2" fill="#ff38ff" opacity="0.5" filter="url(#blurS)"/>
<rect x="364.2" y="1188.0" width="8.6" height="9.6" rx="3.7" fill="#ff38ff" filter="url(#blurS)"/>
<rect x="379.5" y="1203.8" width="14.6" height="10.6" rx="4.5" fill="#ff38ff" filter="url(#blurS)"/>
<rect x="472.3" y="1210.9" width="8.6" height="8.6" rx="3.7" fill="#ff1428" filter="url(#blurS)"/>
</g>
<rect x="0.00" y="853.50" width="493.00" height="1.20" fill="#0a1840"/>
<rect x="0.00" y="853.50" width="1.20" height="370.50" fill="#0a1840"/>
<g clip-path="url(#clip_g)">
<rect x="503" y="854" width="493.5" height="372" fill="url(#pat_g)"/>
<rect x="639.4" y="853.8" width="20.6" height="8.6" rx="3.7" fill="#28ffa8" filter="url(#blurS)"/>
<rect x="638.3" y="876.9" width="16.6" height="9.6" rx="4.1" fill="#28ffa8" filter="url(#blurS)"/>
<rect x="601.3" y="885.6" width="12.6" height="8.6" rx="3.7" fill="#ff38ff" filter="url(#blurS)"/>
<rect x="560.8" y="899.5" width="9.6" height="9.6" rx="4.1" fill="#14ff44" filter="url(#blurS)"/>
<rect x="528.5" y="909.2" width="8.6" height="6.6" rx="2.8" fill="#10f4ff" filter="url(#blurS)"/>
<rect x="655.1" y="908.2" width="9.6" height="8.6" rx="3.7" fill="#ff38ff" filter="url(#blurS)"/>
<rect x="683.4" y="922.6" width="12.6" height="14.6" rx="5.4" fill="#10f4ff" filter="url(#blurS)"/>
<rect x="667.9" y="932.8" width="6.6" height="6.6" rx="2.8" fill="#10f4ff" opacity="0.6" filter="url(#blurS)"/>
<rect x="536.8" y="945.6" width="16.6" height="9.6" rx="4.1" fill="#14ff44" filter="url(#blurS)"/>
<rect x="606.9" y="960.0" width="9.6" height="9.6" rx="4.1" fill="#28ffa8" filter="url(#blurS)"/>
<rect x="668.0" y="969.2" width="16.6" height="9.6" rx="4.1" fill="#14ff44" filter="url(#blurS)"/>
<rect x="712.1" y="959.5" width="18.6" height="10.6" rx="4.5" fill="#10f4ff" filter="url(#blurS)"/>
<rect x="675.6" y="1014.3" width="9.6" height="9.6" rx="4.1" fill="#14ff44" filter="url(#blurS)"/>
<rect x="691.0" y="1014.3" width="9.6" height="9.6" rx="4.1" fill="#14ff44" opacity="0.7" filter="url(#blurS)"/>
<rect x="707.4" y="1015.3" width="9.6" height="9.6" rx="4.1" fill="#ff38ff" filter="url(#blurS)"/>
<rect x="731.6" y="1015.3" width="16.6" height="9.6" rx="4.1" fill="#ff38ff" filter="url(#blurS)"/>
<rect x="555.2" y="1062.5" width="16.6" height="9.6" rx="4.1" fill="#ff38ff" filter="url(#blurS)"/>
<rect x="581.8" y="1053.7" width="8.6" height="6.6" rx="2.8" fill="#14ff44" filter="url(#blurS)"/>
<rect x="581.8" y="1059.7" width="8.6" height="6.6" rx="2.8" fill="#ff1428" filter="url(#blurS)"/>
<rect x="689.0" y="1050.2" width="9.6" height="9.6" rx="4.1" fill="#ff1428" filter="url(#blurS)"/>
<rect x="645.4" y="1076.4" width="14.6" height="12.6" rx="5.4" fill="#ff1428" filter="url(#blurS)"/>
<rect x="691.5" y="1078.5" width="10.6" height="14.6" rx="4.5" fill="#ff38ff" filter="url(#blurS)"/>
<rect x="530.6" y="1091.2" width="16.6" height="9.6" rx="4.1" fill="#28ffa8" filter="url(#blurS)"/>
<rect x="643.8" y="1106.6" width="9.6" height="9.6" rx="4.1" fill="#10f4ff" filter="url(#blurS)"/>
<rect x="731.0" y="1105.6" width="9.6" height="9.6" rx="4.1" fill="#14ff44" filter="url(#blurS)"/>
<rect x="578.8" y="1137.4" width="14.6" height="9.6" rx="4.1" fill="#14ff44" filter="url(#blurS)"/>
<rect x="683.8" y="1136.3" width="9.6" height="9.6" rx="4.1" fill="#28ffa8" filter="url(#blurS)"/>
<rect x="698.2" y="1144.5" width="9.6" height="9.6" rx="4.1" fill="#10f4ff" filter="url(#blurS)"/>
<rect x="730.6" y="1138.4" width="16.6" height="9.6" rx="4.1" fill="#ff38ff" filter="url(#blurS)"/>
<rect x="644.8" y="1144.5" width="7.6" height="7.6" rx="3.2" fill="#14ff44" opacity="0.5" filter="url(#blurS)"/>
<rect x="685.5" y="1167.1" width="16.6" height="9.6" rx="4.1" fill="#ff38ff" filter="url(#blurS)"/>
<rect x="518.3" y="1167.1" width="12.6" height="9.6" rx="4.1" fill="#14ff44" filter="url(#blurS)"/>
<rect x="536.7" y="1165.6" width="8.6" height="8.6" rx="3.7" fill="#ff1428" filter="url(#blurS)"/>
<rect x="506.0" y="1183.5" width="16.6" height="9.6" rx="4.1" fill="#10f4ff" filter="url(#blurS)"/>
<rect x="539.7" y="1185.0" width="8.6" height="8.6" rx="3.7" fill="#ff38ff" filter="url(#blurS)"/>
<rect x="640.2" y="1186.0" width="6.6" height="6.6" rx="2.8" fill="#b048ff" opacity="0.5" filter="url(#blurS)"/>
<rect x="667.9" y="1188.1" width="6.6" height="6.6" rx="2.8" fill="#ff1428" opacity="0.5" filter="url(#blurS)"/>
<rect x="824.7" y="862.0" width="6.6" height="6.6" rx="2.8" fill="#ff38ff" opacity="0.5" filter="url(#blurS)"/>
<rect x="947.8" y="884.1" width="12.6" height="9.6" rx="4.1" fill="#10f4ff" filter="url(#blurS)"/>
<rect x="750.4" y="906.7" width="9.6" height="9.6" rx="4.1" fill="#10f4ff" filter="url(#blurS)"/>
<rect x="775.6" y="912.3" width="14.6" height="8.6" rx="3.7" fill="#ff3880" filter="url(#blurS)"/>
<rect x="798.0" y="903.7" width="8.6" height="8.6" rx="3.7" fill="#ff1428" filter="url(#blurS)"/>
<rect x="817.9" y="924.5" width="38.6" height="9.6" rx="4.1" fill="#ff38ff" filter="url(#blurS)"/>
<rect x="957.1" y="903.6" width="16.6" height="9.6" rx="4.1" fill="#ff3880" filter="url(#blurS)"/>
<rect x="986.7" y="909.2" width="6.6" height="8.6" rx="2.8" fill="#b048ff" filter="url(#blurS)"/>
<rect x="889.4" y="949.7" width="12.6" height="9.6" rx="4.1" fill="#ff1428" filter="url(#blurS)"/>
<rect x="760.1" y="969.7" width="8.6" height="8.6" rx="3.7" fill="#0a8a20" filter="url(#blurS)"/>
<rect x="978.5" y="970.7" width="6.6" height="6.6" rx="2.8" fill="#ff38ff" opacity="0.5" filter="url(#blurS)"/>
<rect x="756.1" y="993.8" width="14.6" height="9.6" rx="4.1" fill="#ff38ff" filter="url(#blurS)"/>
<rect x="777.5" y="993.3" width="8.6" height="8.6" rx="3.7" fill="#ff38ff" filter="url(#blurS)"/>
<rect x="931.4" y="1039.4" width="8.6" height="8.6" rx="3.7" fill="#ff38ff" filter="url(#blurS)"/>
<rect x="960.6" y="1075.8" width="9.6" height="9.6" rx="4.1" fill="#14ff44" filter="url(#blurS)"/>
<rect x="837.5" y="1099.4" width="9.6" height="9.6" rx="4.1" fill="#14ff44" filter="url(#blurS)"/>
<rect x="867.3" y="1099.4" width="9.6" height="9.6" rx="4.1" fill="#14ff44" filter="url(#blurS)"/>
<rect x="927.3" y="1098.9" width="14.6" height="10.6" rx="4.5" fill="#10f4ff" filter="url(#blurS)"/>
<rect x="951.4" y="1098.4" width="9.6" height="9.6" rx="4.1" fill="#10f4ff" filter="url(#blurS)"/>
<rect x="827.3" y="1118.9" width="9.6" height="9.6" rx="4.1" fill="#ff1428" filter="url(#blurS)"/>
<rect x="888.8" y="1126.1" width="9.6" height="9.6" rx="4.1" fill="#ff1428" filter="url(#blurS)"/>
<rect x="928.3" y="1126.1" width="10.6" height="9.6" rx="4.1" fill="#ff1428" filter="url(#blurS)"/>
<rect x="803.7" y="1141.5" width="9.6" height="9.6" rx="4.1" fill="#ff1428" filter="url(#blurS)"/>
<rect x="838.1" y="1144.0" width="16.6" height="10.6" rx="4.5" fill="#14ff44" filter="url(#blurS)"/>
<rect x="946.2" y="1145.6" width="9.6" height="9.6" rx="4.1" fill="#ff38ff" filter="url(#blurS)"/>
<rect x="774.0" y="1165.1" width="9.6" height="9.6" rx="4.1" fill="#ff1428" filter="url(#blurS)"/>
<rect x="823.2" y="1191.7" width="9.6" height="9.6" rx="4.1" fill="#ff38ff" filter="url(#blurS)"/>
<rect x="839.6" y="1189.2" width="9.6" height="10.6" rx="4.1" fill="#ffc0ff" filter="url(#blurS)"/>
<rect x="815.5" y="1208.1" width="12.6" height="9.6" rx="4.1" fill="#ff38ff" filter="url(#blurS)"/>
<rect x="954.0" y="1213.7" width="12.6" height="8.6" rx="3.7" fill="#14ff44" filter="url(#blurS)"/>
</g>
<rect x="503.00" y="854.00" width="493.50" height="1.20" fill="#0a1840"/>
<rect x="995.30" y="854.00" width="1.20" height="372.00" fill="#0a1840"/>
<rect x="503.00" y="854.00" width="1.20" height="372.00" fill="#0a1840"/>
<rect x="503.00" y="1224.80" width="493.50" height="1.20" fill="#0a1840"/>
<g clip-path="url(#clip_h)">
<rect x="1005" y="854" width="494.5" height="372" fill="url(#pat_h)"/>
<rect x="1222.7" y="854.9" width="9.6" height="8.6" rx="3.7" fill="#28ffa8" filter="url(#blurS)"/>
<rect x="1208.9" y="862.0" width="8.6" height="8.6" rx="3.7" fill="#14ff44" filter="url(#blurS)"/>
<rect x="1148.4" y="863.0" width="6.6" height="6.6" rx="2.8" fill="#b048ff" opacity="0.5" filter="url(#blurS)"/>
<rect x="1177.1" y="878.4" width="8.6" height="8.6" rx="3.7" fill="#14ff44" opacity="0.6" filter="url(#blurS)"/>
<rect x="1048.9" y="879.4" width="6.6" height="6.6" rx="2.8" fill="#10f4ff" opacity="0.5" filter="url(#blurS)"/>
<rect x="1170.0" y="924.6" width="12.6" height="8.6" rx="3.7" fill="#0a8a20" filter="url(#blurS)"/>
<rect x="1168.0" y="944.6" width="16.6" height="9.6" rx="4.1" fill="#ff1428" filter="url(#blurS)"/>
<rect x="1237.1" y="944.6" width="9.6" height="9.6" rx="4.1" fill="#ff1428" filter="url(#blurS)"/>
<rect x="1162.8" y="969.2" width="16.6" height="9.6" rx="4.1" fill="#14ff44" filter="url(#blurS)"/>
<rect x="1177.6" y="985.6" width="9.6" height="9.6" rx="4.1" fill="#28ffa8" filter="url(#blurS)"/>
<rect x="1239.2" y="994.8" width="9.6" height="9.6" rx="4.1" fill="#10f4ff" filter="url(#blurS)"/>
<rect x="1061.8" y="1009.2" width="9.6" height="9.6" rx="4.1" fill="#14ff44" filter="url(#blurS)"/>
<rect x="1128.4" y="1082.0" width="9.6" height="9.6" rx="4.1" fill="#ff3880" filter="url(#blurS)"/>
<rect x="1106.9" y="1099.4" width="9.6" height="9.6" rx="4.1" fill="#14ff44" filter="url(#blurS)"/>
<rect x="1239.2" y="1092.7" width="9.6" height="8.6" rx="3.7" fill="#10f4ff" opacity="0.8" filter="url(#blurS)"/>
<rect x="1169.4" y="1122.0" width="9.6" height="9.6" rx="4.1" fill="#14ff44" filter="url(#blurS)"/>
<rect x="1124.3" y="1166.1" width="9.6" height="9.6" rx="4.1" fill="#ff1428" filter="url(#blurS)"/>
<rect x="1033.7" y="1185.1" width="18.6" height="14.6" rx="6.2" fill="#14ff44" filter="url(#blurS)"/>
<rect x="1155.6" y="1187.1" width="8.6" height="12.6" rx="3.7" fill="#10f4ff" filter="url(#blurS)"/>
<rect x="1123.3" y="1208.1" width="9.6" height="9.6" rx="4.1" fill="#14ff44" filter="url(#blurS)"/>
<rect x="1216.6" y="1209.2" width="9.6" height="9.6" rx="4.1" fill="#10f4ff" filter="url(#blurS)"/>
<rect x="1108.4" y="1217.8" width="8.6" height="6.6" rx="2.8" fill="#28ffa8" filter="url(#blurS)"/>
<rect x="1003.7" y="1161.9" width="6.6" height="7.6" rx="2.8" fill="#28ffa8" filter="url(#blurS)"/>
<rect x="1262.6" y="855.9" width="9.6" height="8.6" rx="3.7" fill="#10f4ff" filter="url(#blurS)"/>
<rect x="1368.8" y="853.9" width="14.6" height="14.6" rx="6.2" fill="#14ff44" filter="url(#blurS)"/>
<rect x="1478.0" y="863.6" width="9.6" height="9.6" rx="4.1" fill="#ff38ff" filter="url(#blurS)"/>
<rect x="1391.3" y="883.6" width="10.6" height="10.6" rx="4.5" fill="#14ff44" filter="url(#blurS)"/>
<rect x="1400.0" y="876.9" width="9.6" height="9.6" rx="4.1" fill="#28ffa8" filter="url(#blurS)"/>
<rect x="1415.4" y="880.0" width="9.6" height="9.6" rx="4.1" fill="#ff38ff" filter="url(#blurS)"/>
<rect x="1433.9" y="881.0" width="7.6" height="7.6" rx="3.2" fill="#ff38ff" opacity="0.5" filter="url(#blurS)"/>
<rect x="1428.8" y="922.0" width="9.6" height="9.6" rx="4.1" fill="#ff3880" filter="url(#blurS)"/>
<rect x="1301.6" y="971.2" width="9.6" height="9.6" rx="4.1" fill="#10f4ff" filter="url(#blurS)"/>
<rect x="1406.7" y="971.2" width="10.6" height="9.6" rx="4.1" fill="#10f4ff" filter="url(#blurS)"/>
<rect x="1302.6" y="988.7" width="7.6" height="7.6" rx="3.2" fill="#0a8a20" filter="url(#blurS)"/>
<rect x="1325.2" y="987.7" width="9.6" height="9.6" rx="4.1" fill="#ff38ff" filter="url(#blurS)"/>
<rect x="1391.8" y="992.8" width="9.6" height="9.6" rx="4.1" fill="#14ff44" filter="url(#blurS)"/>
<rect x="1306.2" y="998.4" width="8.6" height="8.6" rx="3.7" fill="#ff3880" filter="url(#blurS)"/>
<rect x="1301.1" y="1009.7" width="14.6" height="10.6" rx="4.5" fill="#14ff44" filter="url(#blurS)"/>
<rect x="1391.8" y="1010.2" width="9.6" height="9.6" rx="4.1" fill="#10f4ff" filter="url(#blurS)"/>
<rect x="1254.9" y="1037.4" width="6.6" height="6.6" rx="2.8" fill="#ff1428" opacity="0.5" filter="url(#blurS)"/>
<rect x="1369.3" y="1041.0" width="9.6" height="9.6" rx="4.1" fill="#10f4ff" filter="url(#blurS)"/>
<rect x="1454.4" y="1041.0" width="9.6" height="9.6" rx="4.1" fill="#ff38ff" filter="url(#blurS)"/>
<rect x="1376.0" y="1147.6" width="10.6" height="9.6" rx="4.1" fill="#10f4ff" filter="url(#blurS)"/>
<rect x="1476.5" y="1161.6" width="16.6" height="16.6" rx="7.1" fill="#14ff44" filter="url(#blurS)"/>
</g>
<rect x="1005.00" y="854.00" width="494.50" height="1.20" fill="#0a1840"/>
<rect x="1498.30" y="854.00" width="1.20" height="372.00" fill="#0a1840"/>
<rect x="1005.00" y="854.00" width="1.20" height="372.00" fill="#0a1840"/>
<rect x="1005.00" y="1224.80" width="494.50" height="1.20" fill="#0a1840"/>
<text transform="translate(10.02,44.46) scale(1.0126,0.9689)" font-size="78" fill="#fff" color="#fff" stroke-width="0.0">a</text>
<text transform="translate(510.00,58.94) scale(0.9992,0.9967)" font-size="78" fill="#fff" color="#fff" stroke-width="0.0">b</text>
<text transform="translate(1017.05,45.25) scale(0.9915,0.9783)" font-size="78" fill="#fff" color="#fff" stroke-width="0.0">c</text>
<text transform="translate(10.88,919.30) scale(1.3022,0.9650)" font-size="78" fill="#fff" color="#fff" stroke-width="0.0">f</text>
<text transform="translate(508.60,898.90) scale(1.0157,0.8969)" font-size="78" fill="#fff" color="#fff" stroke-width="0.0">g</text>
<text transform="translate(1016.24,919.00) scale(0.9944,0.9848)" font-size="78" fill="#fff" color="#fff" stroke-width="0.0">h</text>
<rect x="11.00" y="345.40" width="106.00" height="15.60" fill="#fff"/>
<rect x="514.10" y="347.40" width="107.00" height="15.50" fill="#fff"/>
<rect x="1019.00" y="347.20" width="106.00" height="15.00" fill="#fff"/>
<rect x="12.00" y="1197.40" width="106.00" height="15.80" fill="#fff"/>
<rect x="515.10" y="1200.20" width="106.00" height="16.50" fill="#fff"/>
<rect x="1017.10" y="1201.80" width="107.00" height="16.00" fill="#fff"/>
<rect x="504.30" y="355.00" width="1.80" height="9.00" fill="#fff"/>
<text x="1.52" y="330.00" font-size="51" fill="#fff" color="#fff" stroke-width="0.45">10 µm</text>
<text x="505.42" y="331.40" font-size="51" fill="#fff" color="#fff" stroke-width="0.45">10 µm</text>
<text x="1009.82" y="330.90" font-size="51" fill="#fff" color="#fff" stroke-width="0.45">10 µm</text>
<text x="2.52" y="1181.00" font-size="51" fill="#fff" color="#fff" stroke-width="0.45">10 µm</text>
<text x="505.42" y="1183.60" font-size="51" fill="#fff" color="#fff" stroke-width="0.45">10 µm</text>
<text x="1008.42" y="1185.40" font-size="51" fill="#fff" color="#fff" stroke-width="0.45">10 µm</text>
<line x1="145.40" y1="446.20" x2="145.40" y2="727.10" stroke="#000" stroke-width="5.2" stroke-linecap="butt"/>
<line x1="132.20" y1="724.50" x2="145.40" y2="724.50" stroke="#000" stroke-width="5" stroke-linecap="butt"/>
<text x="113.57" y="733.67" font-size="28" fill="#000" color="#000" stroke-width="0.45">0</text>
<line x1="132.20" y1="669.36" x2="145.40" y2="669.36" stroke="#000" stroke-width="5" stroke-linecap="butt"/>
<text x="99.57" y="678.53" font-size="28" fill="#000" color="#000" stroke-width="0.45">50</text>
<line x1="132.20" y1="614.22" x2="145.40" y2="614.22" stroke="#000" stroke-width="5" stroke-linecap="butt"/>
<text x="85.57" y="623.39" font-size="28" fill="#000" color="#000" stroke-width="0.45">100</text>
<line x1="132.20" y1="559.08" x2="145.40" y2="559.08" stroke="#000" stroke-width="5" stroke-linecap="butt"/>
<text x="85.57" y="568.25" font-size="28" fill="#000" color="#000" stroke-width="0.45">150</text>
<line x1="132.20" y1="503.94" x2="145.40" y2="503.94" stroke="#000" stroke-width="5" stroke-linecap="butt"/>
<text x="85.57" y="513.11" font-size="28" fill="#000" color="#000" stroke-width="0.45">200</text>
<line x1="132.20" y1="448.80" x2="145.40" y2="448.80" stroke="#000" stroke-width="5" stroke-linecap="butt"/>
<text x="85.57" y="457.97" font-size="28" fill="#000" color="#000" stroke-width="0.45">250</text>
<line x1="132.20" y1="724.50" x2="559.00" y2="724.50" stroke="#000" stroke-width="5" stroke-linecap="butt"/>
<line x1="213.00" y1="724.50" x2="213.00" y2="736.80" stroke="#000" stroke-width="5.4" stroke-linecap="butt"/>
<line x1="351.00" y1="724.50" x2="351.00" y2="736.80" stroke="#000" stroke-width="5.4" stroke-linecap="butt"/>
<line x1="488.00" y1="724.50" x2="488.00" y2="736.80" stroke="#000" stroke-width="5.4" stroke-linecap="butt"/>
<text x="194.29" y="762.00" font-size="28" fill="#000" color="#000" stroke-width="0.45">D7</text>
<text x="193.88" y="790.00" font-size="28" fill="#000" color="#000" stroke-width="0.45">IPI</text>
<text x="326.33" y="762.00" font-size="28" fill="#000" color="#000" stroke-width="0.45">D21</text>
<text x="331.88" y="790.00" font-size="28" fill="#000" color="#000" stroke-width="0.45">IPI</text>
<text x="467.86" y="762.00" font-size="28" fill="#000" color="#000" stroke-width="0.45">D42</text>
<text x="475.58" y="790.00" font-size="28" fill="#000" color="#000" stroke-width="0.45">IPI</text>
<text x="291.47" y="827.50" font-size="28" fill="#000" color="#000" stroke-width="0.45">Day+Drug</text>
<text transform="translate(73.40,713.50) rotate(-90)" font-size="32" fill="#000" color="#000" stroke-width="0.45">Concentration (fM)</text>
<circle cx="170.80" cy="724.50" r="3.3" fill="#ff0000"/>
<circle cx="175.60" cy="724.50" r="3.3" fill="#ff0000"/>
<circle cx="166.00" cy="724.50" r="3.3" fill="#ff0000"/>
<circle cx="180.40" cy="724.48" r="3.3" fill="#ff0000"/>
<circle cx="161.20" cy="724.45" r="3.3" fill="#ff0000"/>
<circle cx="165.04" cy="724.38" r="3.3" fill="#ff0000"/>
<circle cx="171.77" cy="724.25" r="3.3" fill="#ff0000"/>
<circle cx="167.94" cy="724.03" r="3.3" fill="#ff0000"/>
<circle cx="173.09" cy="723.68" r="3.3" fill="#ff0000"/>
<circle cx="173.57" cy="723.16" r="3.3" fill="#ff0000"/>
<circle cx="161.24" cy="722.40" r="3.3" fill="#ff0000"/>
<circle cx="160.09" cy="721.34" r="3.3" fill="#ff0000"/>
<circle cx="169.60" cy="719.92" r="3.3" fill="#ff0000"/>
<circle cx="174.40" cy="718.04" r="3.3" fill="#ff0000"/>
<circle cx="168.40" cy="715.61" r="3.3" fill="#ff0000"/>
<circle cx="172.00" cy="712.53" r="3.3" fill="#ff0000"/>
<circle cx="169.60" cy="708.67" r="3.3" fill="#ff0000"/>
<circle cx="174.40" cy="706.41" r="3.3" fill="#ff0000"/>
<line x1="158.80" y1="720.75" x2="182.80" y2="720.75" stroke="#000" stroke-width="3.2" stroke-linecap="butt"/>
<line x1="170.80" y1="716.78" x2="170.80" y2="723.40" stroke="#000" stroke-width="2.6" stroke-linecap="butt"/>
<line x1="164.80" y1="716.78" x2="176.80" y2="716.78" stroke="#000" stroke-width="2.6" stroke-linecap="butt"/>
<line x1="164.80" y1="723.40" x2="176.80" y2="723.40" stroke="#000" stroke-width="2.6" stroke-linecap="butt"/>
<circle cx="199.20" cy="724.50" r="3.3" fill="#00c400"/>
<circle cx="204.00" cy="724.48" r="3.3" fill="#00c400"/>
<circle cx="194.40" cy="724.43" r="3.3" fill="#00c400"/>
<circle cx="208.80" cy="724.32" r="3.3" fill="#00c400"/>
<circle cx="189.60" cy="724.14" r="3.3" fill="#00c400"/>
<circle cx="206.62" cy="723.86" r="3.3" fill="#00c400"/>
<circle cx="193.91" cy="723.46" r="3.3" fill="#00c400"/>
<circle cx="193.36" cy="722.94" r="3.3" fill="#00c400"/>
<circle cx="210.10" cy="722.27" r="3.3" fill="#00c400"/>
<circle cx="198.55" cy="721.43" r="3.3" fill="#00c400"/>
<circle cx="206.60" cy="720.41" r="3.3" fill="#00c400"/>
<circle cx="190.80" cy="719.19" r="3.3" fill="#00c400"/>
<circle cx="201.60" cy="717.75" r="3.3" fill="#00c400"/>
<circle cx="196.80" cy="716.09" r="3.3" fill="#00c400"/>
<circle cx="205.20" cy="714.18" r="3.3" fill="#00c400"/>
<circle cx="199.20" cy="712.00" r="3.3" fill="#00c400"/>
<circle cx="202.80" cy="709.55" r="3.3" fill="#00c400"/>
<circle cx="199.20" cy="706.80" r="3.3" fill="#00c400"/>
<circle cx="204.00" cy="705.31" r="3.3" fill="#00c400"/>
<line x1="187.20" y1="718.43" x2="211.20" y2="718.43" stroke="#000" stroke-width="3.2" stroke-linecap="butt"/>
<line x1="199.20" y1="714.57" x2="199.20" y2="721.74" stroke="#000" stroke-width="2.6" stroke-linecap="butt"/>
<line x1="193.20" y1="714.57" x2="205.20" y2="714.57" stroke="#000" stroke-width="2.6" stroke-linecap="butt"/>
<line x1="193.20" y1="721.74" x2="205.20" y2="721.74" stroke="#000" stroke-width="2.6" stroke-linecap="butt"/>
<circle cx="227.20" cy="724.50" r="3.3" fill="#a300e6"/>
<circle cx="232.00" cy="724.50" r="3.3" fill="#a300e6"/>
<circle cx="222.40" cy="724.49" r="3.3" fill="#a300e6"/>
<circle cx="236.80" cy="724.48" r="3.3" fill="#a300e6"/>
<circle cx="217.60" cy="724.43" r="3.3" fill="#a300e6"/>
<circle cx="226.68" cy="724.33" r="3.3" fill="#a300e6"/>
<circle cx="230.26" cy="724.13" r="3.3" fill="#a300e6"/>
<circle cx="219.51" cy="723.81" r="3.3" fill="#a300e6"/>
<circle cx="230.17" cy="723.30" r="3.3" fill="#a300e6"/>
<circle cx="235.30" cy="722.53" r="3.3" fill="#a300e6"/>
<circle cx="227.71" cy="721.42" r="3.3" fill="#a300e6"/>
<circle cx="223.60" cy="719.89" r="3.3" fill="#a300e6"/>
<circle cx="230.80" cy="717.82" r="3.3" fill="#a300e6"/>
<circle cx="227.20" cy="715.11" r="3.3" fill="#a300e6"/>
<circle cx="230.80" cy="711.60" r="3.3" fill="#a300e6"/>
<circle cx="226.00" cy="709.50" r="3.3" fill="#a300e6"/>
<line x1="215.20" y1="721.63" x2="239.20" y2="721.63" stroke="#000" stroke-width="3.2" stroke-linecap="butt"/>
<line x1="227.20" y1="718.99" x2="227.20" y2="723.95" stroke="#000" stroke-width="2.6" stroke-linecap="butt"/>
<line x1="221.20" y1="718.99" x2="233.20" y2="718.99" stroke="#000" stroke-width="2.6" stroke-linecap="butt"/>
<line x1="221.20" y1="723.95" x2="233.20" y2="723.95" stroke="#000" stroke-width="2.6" stroke-linecap="butt"/>
<circle cx="255.00" cy="724.50" r="3.3" fill="#1c9ab9"/>
<circle cx="259.80" cy="724.50" r="3.3" fill="#1c9ab9"/>
<circle cx="250.20" cy="724.50" r="3.3" fill="#1c9ab9"/>
<circle cx="264.60" cy="724.48" r="3.3" fill="#1c9ab9"/>
<circle cx="245.40" cy="724.45" r="3.3" fill="#1c9ab9"/>
<circle cx="260.31" cy="724.36" r="3.3" fill="#1c9ab9"/>
<circle cx="258.77" cy="724.20" r="3.3" fill="#1c9ab9"/>
<circle cx="245.41" cy="723.93" r="3.3" fill="#1c9ab9"/>
<circle cx="260.68" cy="723.48" r="3.3" fill="#1c9ab9"/>
<circle cx="257.00" cy="722.80" r="3.3" fill="#1c9ab9"/>
<circle cx="250.63" cy="721.81" r="3.3" fill="#1c9ab9"/>
<circle cx="244.68" cy="720.41" r="3.3" fill="#1c9ab9"/>
<circle cx="255.00" cy="718.50" r="3.3" fill="#1c9ab9"/>
<circle cx="258.60" cy="715.95" r="3.3" fill="#1c9ab9"/>
<circle cx="255.00" cy="712.62" r="3.3" fill="#1c9ab9"/>
<circle cx="256.20" cy="708.35" r="3.3" fill="#1c9ab9"/>
<circle cx="255.00" cy="702.97" r="3.3" fill="#1c9ab9"/>
<circle cx="258.60" cy="699.80" r="3.3" fill="#1c9ab9"/>
<line x1="243.00" y1="719.54" x2="267.00" y2="719.54" stroke="#000" stroke-width="3.2" stroke-linecap="butt"/>
<line x1="255.00" y1="714.57" x2="255.00" y2="723.40" stroke="#000" stroke-width="2.6" stroke-linecap="butt"/>
<line x1="249.00" y1="714.57" x2="261.00" y2="714.57" stroke="#000" stroke-width="2.6" stroke-linecap="butt"/>
<line x1="249.00" y1="723.40" x2="261.00" y2="723.40" stroke="#000" stroke-width="2.6" stroke-linecap="butt"/>
<circle cx="308.70" cy="724.47" r="3.3" fill="#ff0000"/>
<circle cx="313.50" cy="724.29" r="3.3" fill="#ff0000"/>
<circle cx="303.90" cy="723.93" r="3.3" fill="#ff0000"/>
<circle cx="318.30" cy="723.41" r="3.3" fill="#ff0000"/>
<circle cx="299.10" cy="722.73" r="3.3" fill="#ff0000"/>
<circle cx="316.74" cy="721.89" r="3.3" fill="#ff0000"/>
<circle cx="308.10" cy="720.90" r="3.3" fill="#ff0000"/>
<circle cx="313.51" cy="719.75" r="3.3" fill="#ff0000"/>
<circle cx="303.90" cy="718.44" r="3.3" fill="#ff0000"/>
<circle cx="317.10" cy="716.99" r="3.3" fill="#ff0000"/>
<circle cx="308.70" cy="715.38" r="3.3" fill="#ff0000"/>
<circle cx="313.50" cy="713.62" r="3.3" fill="#ff0000"/>
<circle cx="306.30" cy="711.71" r="3.3" fill="#ff0000"/>
<circle cx="311.10" cy="709.66" r="3.3" fill="#ff0000"/>
<circle cx="305.10" cy="707.45" r="3.3" fill="#ff0000"/>
<circle cx="309.90" cy="705.10" r="3.3" fill="#ff0000"/>
<circle cx="306.30" cy="702.60" r="3.3" fill="#ff0000"/>
<circle cx="309.90" cy="699.96" r="3.3" fill="#ff0000"/>
<circle cx="303.90" cy="698.58" r="3.3" fill="#ff0000"/>
<line x1="296.70" y1="713.80" x2="320.70" y2="713.80" stroke="#000" stroke-width="3.2" stroke-linecap="butt"/>
<line x1="308.70" y1="707.30" x2="308.70" y2="720.31" stroke="#000" stroke-width="2.6" stroke-linecap="butt"/>
<line x1="302.70" y1="707.30" x2="314.70" y2="707.30" stroke="#000" stroke-width="2.6" stroke-linecap="butt"/>
<line x1="302.70" y1="720.31" x2="314.70" y2="720.31" stroke="#000" stroke-width="2.6" stroke-linecap="butt"/>
<circle cx="337.00" cy="724.41" r="3.3" fill="#00c400"/>
<circle cx="341.80" cy="724.01" r="3.3" fill="#00c400"/>
<circle cx="332.20" cy="723.44" r="3.3" fill="#00c400"/>
<circle cx="346.60" cy="722.74" r="3.3" fill="#00c400"/>
<circle cx="327.40" cy="721.93" r="3.3" fill="#00c400"/>
<circle cx="345.33" cy="721.03" r="3.3" fill="#00c400"/>
<circle cx="337.00" cy="720.03" r="3.3" fill="#00c400"/>
<circle cx="332.20" cy="718.96" r="3.3" fill="#00c400"/>
<circle cx="341.80" cy="717.81" r="3.3" fill="#00c400"/>
<circle cx="346.60" cy="716.58" r="3.3" fill="#00c400"/>
<circle cx="337.00" cy="715.30" r="3.3" fill="#00c400"/>
<circle cx="332.20" cy="713.94" r="3.3" fill="#00c400"/>
<circle cx="340.60" cy="712.53" r="3.3" fill="#00c400"/>
<circle cx="335.80" cy="711.06" r="3.3" fill="#00c400"/>
<circle cx="331.00" cy="709.53" r="3.3" fill="#00c400"/>
<circle cx="339.40" cy="707.95" r="3.3" fill="#00c400"/>
<circle cx="334.60" cy="706.31" r="3.3" fill="#00c400"/>
<circle cx="343.00" cy="704.63" r="3.3" fill="#00c400"/>
<circle cx="331.00" cy="703.77" r="3.3" fill="#00c400"/>
<line x1="325.00" y1="715.13" x2="349.00" y2="715.13" stroke="#000" stroke-width="3.2" stroke-linecap="butt"/>
<line x1="337.00" y1="709.94" x2="337.00" y2="720.09" stroke="#000" stroke-width="2.6" stroke-linecap="butt"/>
<line x1="331.00" y1="709.94" x2="343.00" y2="709.94" stroke="#000" stroke-width="2.6" stroke-linecap="butt"/>
<line x1="331.00" y1="720.09" x2="343.00" y2="720.09" stroke="#000" stroke-width="2.6" stroke-linecap="butt"/>
<circle cx="365.00" cy="724.34" r="3.3" fill="#a300e6"/>
<circle cx="369.80" cy="723.82" r="3.3" fill="#a300e6"/>
<circle cx="360.20" cy="723.14" r="3.3" fill="#a300e6"/>
<circle cx="374.60" cy="722.36" r="3.3" fill="#a300e6"/>
<circle cx="355.40" cy="721.50" r="3.3" fill="#a300e6"/>
<circle cx="369.71" cy="720.57" r="3.3" fill="#a300e6"/>
<circle cx="365.00" cy="719.58" r="3.3" fill="#a300e6"/>
<circle cx="360.20" cy="718.53" r="3.3" fill="#a300e6"/>
<circle cx="373.40" cy="717.43" r="3.3" fill="#a300e6"/>
<circle cx="368.60" cy="716.29" r="3.3" fill="#a300e6"/>
<circle cx="363.80" cy="715.11" r="3.3" fill="#a300e6"/>
<circle cx="359.00" cy="713.88" r="3.3" fill="#a300e6"/>
<circle cx="371.00" cy="712.62" r="3.3" fill="#a300e6"/>
<circle cx="366.20" cy="711.32" r="3.3" fill="#a300e6"/>
<circle cx="361.40" cy="709.99" r="3.3" fill="#a300e6"/>
<circle cx="373.40" cy="708.63" r="3.3" fill="#a300e6"/>
<circle cx="368.60" cy="707.24" r="3.3" fill="#a300e6"/>
<circle cx="363.80" cy="705.81" r="3.3" fill="#a300e6"/>
<circle cx="359.00" cy="705.09" r="3.3" fill="#a300e6"/>
<line x1="353.00" y1="715.46" x2="377.00" y2="715.46" stroke="#000" stroke-width="3.2" stroke-linecap="butt"/>
<line x1="365.00" y1="709.94" x2="365.00" y2="720.09" stroke="#000" stroke-width="2.6" stroke-linecap="butt"/>
<line x1="359.00" y1="709.94" x2="371.00" y2="709.94" stroke="#000" stroke-width="2.6" stroke-linecap="butt"/>
<line x1="359.00" y1="720.09" x2="371.00" y2="720.09" stroke="#000" stroke-width="2.6" stroke-linecap="butt"/>
<circle cx="393.30" cy="724.47" r="3.3" fill="#1c9ab9"/>
<circle cx="398.10" cy="724.25" r="3.3" fill="#1c9ab9"/>
<circle cx="388.50" cy="723.84" r="3.3" fill="#1c9ab9"/>
<circle cx="402.90" cy="723.24" r="3.3" fill="#1c9ab9"/>
<circle cx="383.70" cy="722.46" r="3.3" fill="#1c9ab9"/>
<circle cx="402.56" cy="721.50" r="3.3" fill="#1c9ab9"/>
<circle cx="395.70" cy="720.38" r="3.3" fill="#1c9ab9"/>
<circle cx="390.90" cy="719.08" r="3.3" fill="#1c9ab9"/>
<circle cx="399.30" cy="717.61" r="3.3" fill="#1c9ab9"/>
<circle cx="394.50" cy="715.98" r="3.3" fill="#1c9ab9"/>
<circle cx="389.70" cy="714.19" r="3.3" fill="#1c9ab9"/>
<circle cx="396.90" cy="712.23" r="3.3" fill="#1c9ab9"/>
<circle cx="392.10" cy="710.11" r="3.3" fill="#1c9ab9"/>
<circle cx="396.90" cy="707.83" r="3.3" fill="#1c9ab9"/>
<circle cx="392.10" cy="705.39" r="3.3" fill="#1c9ab9"/>
<circle cx="395.70" cy="702.79" r="3.3" fill="#1c9ab9"/>
<circle cx="392.10" cy="700.03" r="3.3" fill="#1c9ab9"/>
<circle cx="395.70" cy="697.12" r="3.3" fill="#1c9ab9"/>
<circle cx="390.90" cy="695.61" r="3.3" fill="#1c9ab9"/>
<line x1="381.30" y1="713.80" x2="405.30" y2="713.80" stroke="#000" stroke-width="3.2" stroke-linecap="butt"/>
<line x1="393.30" y1="702.11" x2="393.30" y2="718.66" stroke="#000" stroke-width="2.6" stroke-linecap="butt"/>
<line x1="387.30" y1="702.11" x2="399.30" y2="702.11" stroke="#000" stroke-width="2.6" stroke-linecap="butt"/>
<line x1="387.30" y1="718.66" x2="399.30" y2="718.66" stroke="#000" stroke-width="2.6" stroke-linecap="butt"/>
<circle cx="445.70" cy="724.50" r="3.3" fill="#ff0000"/>
<circle cx="450.50" cy="724.50" r="3.3" fill="#ff0000"/>
<circle cx="440.90" cy="724.47" r="3.3" fill="#ff0000"/>
<circle cx="455.30" cy="724.39" r="3.3" fill="#ff0000"/>
<circle cx="436.10" cy="724.21" r="3.3" fill="#ff0000"/>
<circle cx="443.39" cy="723.88" r="3.3" fill="#ff0000"/>
<circle cx="452.32" cy="723.32" r="3.3" fill="#ff0000"/>
<circle cx="444.48" cy="722.45" r="3.3" fill="#ff0000"/>
<circle cx="455.28" cy="721.17" r="3.3" fill="#ff0000"/>
<circle cx="448.10" cy="719.39" r="3.3" fill="#ff0000"/>
<circle cx="443.30" cy="716.98" r="3.3" fill="#ff0000"/>
<circle cx="446.90" cy="713.82" r="3.3" fill="#ff0000"/>
<circle cx="444.50" cy="709.77" r="3.3" fill="#ff0000"/>
<circle cx="445.70" cy="704.69" r="3.3" fill="#ff0000"/>
<circle cx="445.70" cy="698.40" r="3.3" fill="#ff0000"/>
<circle cx="445.70" cy="691.42" r="3.3" fill="#ff0000"/>
<circle cx="450.50" cy="690.75" r="3.3" fill="#ff0000"/>
<circle cx="442.10" cy="688.11" r="3.3" fill="#ff0000"/>
<circle cx="445.70" cy="681.55" r="3.3" fill="#ff0000"/>
<circle cx="445.70" cy="676.31" r="3.3" fill="#ff0000"/>
<circle cx="445.70" cy="656.13" r="3.3" fill="#ff0000"/>
<circle cx="449.30" cy="653.37" r="3.3" fill="#ff0000"/>
<line x1="433.70" y1="712.37" x2="457.70" y2="712.37" stroke="#000" stroke-width="3.2" stroke-linecap="butt"/>
<line x1="445.70" y1="689.98" x2="445.70" y2="719.43" stroke="#000" stroke-width="2.6" stroke-linecap="butt"/>
<line x1="439.70" y1="689.98" x2="451.70" y2="689.98" stroke="#000" stroke-width="2.6" stroke-linecap="butt"/>
<line x1="439.70" y1="719.43" x2="451.70" y2="719.43" stroke="#000" stroke-width="2.6" stroke-linecap="butt"/>
<circle cx="474.20" cy="720.29" r="3.3" fill="#00c400"/>
<circle cx="474.20" cy="715.61" r="3.3" fill="#00c400"/>
<circle cx="476.60" cy="711.92" r="3.3" fill="#00c400"/>
<circle cx="473.00" cy="708.69" r="3.3" fill="#00c400"/>
<circle cx="476.60" cy="705.74" r="3.3" fill="#00c400"/>
<circle cx="473.00" cy="703.00" r="3.3" fill="#00c400"/>
<circle cx="476.60" cy="700.41" r="3.3" fill="#00c400"/>
<circle cx="473.00" cy="697.95" r="3.3" fill="#00c400"/>
<circle cx="477.80" cy="695.59" r="3.3" fill="#00c400"/>
<circle cx="473.00" cy="693.32" r="3.3" fill="#00c400"/>
<circle cx="477.80" cy="691.12" r="3.3" fill="#00c400"/>
<circle cx="471.80" cy="688.99" r="3.3" fill="#00c400"/>
<circle cx="476.60" cy="686.92" r="3.3" fill="#00c400"/>
<circle cx="469.40" cy="684.90" r="3.3" fill="#00c400"/>
<circle cx="474.20" cy="682.93" r="3.3" fill="#00c400"/>
<circle cx="479.00" cy="681.00" r="3.3" fill="#00c400"/>
<circle cx="471.80" cy="679.11" r="3.3" fill="#00c400"/>
<circle cx="467.00" cy="678.18" r="3.3" fill="#00c400"/>
<circle cx="474.20" cy="670.46" r="3.3" fill="#00c400"/>
<circle cx="474.20" cy="662.74" r="3.3" fill="#00c400"/>
<circle cx="474.20" cy="609.81" r="3.3" fill="#00c400"/>
<circle cx="479.00" cy="608.71" r="3.3" fill="#00c400"/>
<circle cx="474.20" cy="581.69" r="3.3" fill="#00c400"/>
<circle cx="479.00" cy="580.03" r="3.3" fill="#00c400"/>
<circle cx="474.20" cy="562.39" r="3.3" fill="#00c400"/>
<circle cx="474.20" cy="503.94" r="3.3" fill="#00c400"/>
<line x1="462.20" y1="688.11" x2="486.20" y2="688.11" stroke="#000" stroke-width="3.2" stroke-linecap="butt"/>
<line x1="474.20" y1="631.86" x2="474.20" y2="696.93" stroke="#000" stroke-width="2.6" stroke-linecap="butt"/>
<line x1="468.20" y1="631.86" x2="480.20" y2="631.86" stroke="#000" stroke-width="2.6" stroke-linecap="butt"/>
<line x1="468.20" y1="696.93" x2="480.20" y2="696.93" stroke="#000" stroke-width="2.6" stroke-linecap="butt"/>
<circle cx="502.40" cy="724.50" r="3.3" fill="#a300e6"/>
<circle cx="507.20" cy="724.50" r="3.3" fill="#a300e6"/>
<circle cx="497.60" cy="724.49" r="3.3" fill="#a300e6"/>
<circle cx="512.00" cy="724.46" r="3.3" fill="#a300e6"/>
<circle cx="492.80" cy="724.39" r="3.3" fill="#a300e6"/>
<circle cx="510.74" cy="724.23" r="3.3" fill="#a300e6"/>
<circle cx="493.54" cy="723.95" r="3.3" fill="#a300e6"/>
<circle cx="494.39" cy="723.48" r="3.3" fill="#a300e6"/>
<circle cx="496.17" cy="722.75" r="3.3" fill="#a300e6"/>
<circle cx="512.64" cy="721.67" r="3.3" fill="#a300e6"/>
<circle cx="502.40" cy="720.13" r="3.3" fill="#a300e6"/>
<circle cx="507.20" cy="718.01" r="3.3" fill="#a300e6"/>
<circle cx="502.40" cy="715.19" r="3.3" fill="#a300e6"/>
<circle cx="504.80" cy="711.50" r="3.3" fill="#a300e6"/>
<circle cx="502.40" cy="706.79" r="3.3" fill="#a300e6"/>
<circle cx="502.40" cy="700.85" r="3.3" fill="#a300e6"/>
<circle cx="502.40" cy="693.49" r="3.3" fill="#a300e6"/>
<circle cx="503.60" cy="689.21" r="3.3" fill="#a300e6"/>
<circle cx="502.40" cy="678.18" r="3.3" fill="#a300e6"/>
<circle cx="502.40" cy="666.05" r="3.3" fill="#a300e6"/>
<line x1="490.40" y1="715.35" x2="514.40" y2="715.35" stroke="#000" stroke-width="3.2" stroke-linecap="butt"/>
<line x1="502.40" y1="705.20" x2="502.40" y2="722.85" stroke="#000" stroke-width="2.6" stroke-linecap="butt"/>
<line x1="496.40" y1="705.20" x2="508.40" y2="705.20" stroke="#000" stroke-width="2.6" stroke-linecap="butt"/>
<line x1="496.40" y1="722.85" x2="508.40" y2="722.85" stroke="#000" stroke-width="2.6" stroke-linecap="butt"/>
<circle cx="530.50" cy="724.48" r="3.3" fill="#1c9ab9"/>
<circle cx="535.30" cy="724.28" r="3.3" fill="#1c9ab9"/>
<circle cx="525.70" cy="723.80" r="3.3" fill="#1c9ab9"/>
<circle cx="540.10" cy="723.00" r="3.3" fill="#1c9ab9"/>
<circle cx="520.90" cy="721.84" r="3.3" fill="#1c9ab9"/>
<circle cx="532.90" cy="720.31" r="3.3" fill="#1c9ab9"/>
<circle cx="528.10" cy="718.39" r="3.3" fill="#1c9ab9"/>
<circle cx="534.10" cy="716.04" r="3.3" fill="#1c9ab9"/>
<circle cx="530.50" cy="713.27" r="3.3" fill="#1c9ab9"/>
<circle cx="534.10" cy="710.05" r="3.3" fill="#1c9ab9"/>
<circle cx="530.50" cy="706.37" r="3.3" fill="#1c9ab9"/>
<circle cx="532.90" cy="702.22" r="3.3" fill="#1c9ab9"/>
<circle cx="530.50" cy="697.58" r="3.3" fill="#1c9ab9"/>
<circle cx="530.50" cy="692.45" r="3.3" fill="#1c9ab9"/>
<circle cx="530.50" cy="686.82" r="3.3" fill="#1c9ab9"/>
<circle cx="530.50" cy="680.67" r="3.3" fill="#1c9ab9"/>
<circle cx="530.50" cy="674.00" r="3.3" fill="#1c9ab9"/>
<circle cx="534.10" cy="670.46" r="3.3" fill="#1c9ab9"/>
<circle cx="530.50" cy="657.01" r="3.3" fill="#1c9ab9"/>
<circle cx="530.50" cy="642.56" r="3.3" fill="#1c9ab9"/>
<circle cx="530.50" cy="628.23" r="3.3" fill="#1c9ab9"/>
<line x1="518.50" y1="700.24" x2="542.50" y2="700.24" stroke="#000" stroke-width="3.2" stroke-linecap="butt"/>
<line x1="530.50" y1="677.08" x2="530.50" y2="714.80" stroke="#000" stroke-width="2.6" stroke-linecap="butt"/>
<line x1="524.50" y1="677.08" x2="536.50" y2="677.08" stroke="#000" stroke-width="2.6" stroke-linecap="butt"/>
<line x1="524.50" y1="714.80" x2="536.50" y2="714.80" stroke="#000" stroke-width="2.6" stroke-linecap="butt"/>
<text transform="translate(42.42,443.24) scale(1.0219,0.9967)" font-size="78" fill="#000" color="#000" stroke-width="0.0">d</text>
<text x="318.02" y="416.30" font-size="34" fill="#000" color="#000" stroke-width="0.45">Patient 1</text>
<path d="M170.50,682.30 V670.20 H308.60 V682.30" fill="none" stroke="#ff0000" stroke-width="4.2" stroke-linejoin="miter"/>
<text x="180.12" y="657.00" font-size="30" fill="#ff0000" color="#ff0000" stroke-width="0.45">p=0.0154</text>
<path d="M227.50,627.90 V615.20 H365.60 V627.90" fill="none" stroke="#a300e6" stroke-width="4.2" stroke-linejoin="miter"/>
<text x="238.22" y="601.30" font-size="30" fill="#a300e6" color="#a300e6" stroke-width="0.45">p=0.0003</text>
<path d="M336.70,471.80 V458.90 H474.30 V471.80" fill="none" stroke="#00c400" stroke-width="4.2" stroke-linejoin="miter"/>
<text x="348.52" y="448.00" font-size="30" fill="#00c400" color="#00c400" stroke-width="0.45">p&lt;0.0001</text>
<path d="M378.00,512.70 V499.70 H515.80 V512.70" fill="none" stroke="#1c9ab9" stroke-width="4.2" stroke-linejoin="miter"/>
<text x="386.12" y="491.00" font-size="30" fill="#1c9ab9" color="#1c9ab9" stroke-width="0.45">p=0.0062</text>
<text x="543.08" y="666.00" font-size="27" fill="#ff0000" color="#ff0000" stroke-width="0.45" font-weight="bold">G4</text>
<line x1="560.00" y1="679.00" x2="560.00" y2="706.00" stroke="#ff0000" stroke-width="2.6" stroke-linecap="butt"/>
<path d="M555.40,702.00 L564.60,702.00 L560.00,716.00 Z" fill="#ff0000"/>
<text x="567.01" y="730.00" font-size="28" fill="#0000ff" color="#0000ff" stroke-width="0.45" font-weight="bold">SD</text>
<circle cx="633.7" cy="469" r="3.3" fill="#ff0000"/>
<text x="652.18" y="478.30" font-size="28.5" fill="#000" color="#000" stroke-width="0.45">FGF-2</text>
<circle cx="633.7" cy="510.7" r="3.3" fill="#00c400"/>
<text x="651.83" y="520.00" font-size="28.5" fill="#000" color="#000" stroke-width="0.45">G-CSF</text>
<circle cx="633.7" cy="552.3" r="3.3" fill="#a300e6"/>
<text x="651.83" y="561.60" font-size="28.5" fill="#000" color="#000" stroke-width="0.45">GM-CSF</text>
<circle cx="633.7" cy="594" r="3.3" fill="#1c9ab9"/>
<text x="651.83" y="603.30" font-size="28.5" fill="#000" color="#000" stroke-width="0.45">CX3CL1</text>
<line x1="153.75" y1="1318.70" x2="153.75" y2="1598.90" stroke="#000" stroke-width="5.2" stroke-linecap="butt"/>
<line x1="140.55" y1="1596.30" x2="153.75" y2="1596.30" stroke="#000" stroke-width="5" stroke-linecap="butt"/>
<text x="120.37" y="1605.47" font-size="28" fill="#000" color="#000" stroke-width="0.45">0</text>
<line x1="140.55" y1="1541.40" x2="153.75" y2="1541.40" stroke="#000" stroke-width="5" stroke-linecap="butt"/>
<text x="106.37" y="1550.57" font-size="28" fill="#000" color="#000" stroke-width="0.45">50</text>
<line x1="140.55" y1="1486.50" x2="153.75" y2="1486.50" stroke="#000" stroke-width="5" stroke-linecap="butt"/>
<text x="92.37" y="1495.67" font-size="28" fill="#000" color="#000" stroke-width="0.45">100</text>
<line x1="140.55" y1="1431.60" x2="153.75" y2="1431.60" stroke="#000" stroke-width="5" stroke-linecap="butt"/>
<text x="92.37" y="1440.77" font-size="28" fill="#000" color="#000" stroke-width="0.45">150</text>
<line x1="140.55" y1="1376.70" x2="153.75" y2="1376.70" stroke="#000" stroke-width="5" stroke-linecap="butt"/>
<text x="92.37" y="1385.87" font-size="28" fill="#000" color="#000" stroke-width="0.45">200</text>
<line x1="140.55" y1="1321.80" x2="153.75" y2="1321.80" stroke="#000" stroke-width="5" stroke-linecap="butt"/>
<text x="92.37" y="1330.97" font-size="28" fill="#000" color="#000" stroke-width="0.45">250</text>
<line x1="140.55" y1="1596.30" x2="567.90" y2="1596.30" stroke="#000" stroke-width="5" stroke-linecap="butt"/>
<line x1="220.40" y1="1596.30" x2="220.40" y2="1608.60" stroke="#000" stroke-width="5.4" stroke-linecap="butt"/>
<line x1="359.60" y1="1596.30" x2="359.60" y2="1608.60" stroke="#000" stroke-width="5.4" stroke-linecap="butt"/>
<line x1="497.20" y1="1596.30" x2="497.20" y2="1608.60" stroke="#000" stroke-width="5.4" stroke-linecap="butt"/>
<text x="201.62" y="1634.80" font-size="28" fill="#000" color="#000" stroke-width="0.45">D0</text>
<text x="139.69" y="1664.00" font-size="28" fill="#000" color="#000" stroke-width="0.45">IPI+PEMBRO</text>
<text x="339.83" y="1634.80" font-size="28" fill="#000" color="#000" stroke-width="0.45">D21</text>
<text x="345.18" y="1664.00" font-size="28" fill="#000" color="#000" stroke-width="0.45">IPI</text>
<text x="467.76" y="1634.80" font-size="28" fill="#000" color="#000" stroke-width="0.45">D42</text>
<text x="478.48" y="1664.00" font-size="28" fill="#000" color="#000" stroke-width="0.45">IPI</text>
<text x="298.47" y="1700.80" font-size="28" fill="#000" color="#000" stroke-width="0.45">Day+Drug</text>
<text transform="translate(79.60,1587.80) rotate(-90)" font-size="32" fill="#000" color="#000" stroke-width="0.45">Concentration (fM)</text>
<circle cx="178.80" cy="1596.30" r="3.3" fill="#ff0000"/>
<circle cx="183.60" cy="1596.30" r="3.3" fill="#ff0000"/>
<circle cx="174.00" cy="1596.29" r="3.3" fill="#ff0000"/>
<circle cx="188.40" cy="1596.27" r="3.3" fill="#ff0000"/>
<circle cx="169.20" cy="1596.20" r="3.3" fill="#ff0000"/>
<circle cx="177.40" cy="1596.07" r="3.3" fill="#ff0000"/>
<circle cx="181.59" cy="1595.83" r="3.3" fill="#ff0000"/>
<circle cx="174.42" cy="1595.43" r="3.3" fill="#ff0000"/>
<circle cx="178.96" cy="1594.80" r="3.3" fill="#ff0000"/>
<circle cx="176.29" cy="1593.87" r="3.3" fill="#ff0000"/>
<circle cx="186.00" cy="1592.55" r="3.3" fill="#ff0000"/>
<circle cx="181.20" cy="1590.74" r="3.3" fill="#ff0000"/>
<circle cx="176.40" cy="1588.33" r="3.3" fill="#ff0000"/>
<circle cx="180.00" cy="1585.17" r="3.3" fill="#ff0000"/>
<circle cx="177.60" cy="1581.13" r="3.3" fill="#ff0000"/>
<circle cx="182.40" cy="1578.73" r="3.3" fill="#ff0000"/>
<line x1="166.80" y1="1591.69" x2="190.80" y2="1591.69" stroke="#000" stroke-width="3.2" stroke-linecap="butt"/>
<line x1="178.80" y1="1588.61" x2="178.80" y2="1595.20" stroke="#000" stroke-width="2.6" stroke-linecap="butt"/>
<line x1="172.80" y1="1588.61" x2="184.80" y2="1588.61" stroke="#000" stroke-width="2.6" stroke-linecap="butt"/>
<line x1="172.80" y1="1595.20" x2="184.80" y2="1595.20" stroke="#000" stroke-width="2.6" stroke-linecap="butt"/>
<circle cx="207.20" cy="1595.86" r="3.3" fill="#00c400"/>
<circle cx="212.00" cy="1594.63" r="3.3" fill="#00c400"/>
<circle cx="203.60" cy="1593.20" r="3.3" fill="#00c400"/>
<circle cx="208.40" cy="1591.64" r="3.3" fill="#00c400"/>
<circle cx="213.20" cy="1589.98" r="3.3" fill="#00c400"/>
<circle cx="204.80" cy="1588.23" r="3.3" fill="#00c400"/>
<circle cx="209.60" cy="1586.42" r="3.3" fill="#00c400"/>
<circle cx="202.40" cy="1584.54" r="3.3" fill="#00c400"/>
<circle cx="207.20" cy="1582.61" r="3.3" fill="#00c400"/>
<circle cx="212.00" cy="1580.63" r="3.3" fill="#00c400"/>
<circle cx="204.80" cy="1578.61" r="3.3" fill="#00c400"/>
<circle cx="209.60" cy="1576.54" r="3.3" fill="#00c400"/>
<circle cx="202.40" cy="1574.44" r="3.3" fill="#00c400"/>
<circle cx="207.20" cy="1572.30" r="3.3" fill="#00c400"/>
<circle cx="212.00" cy="1570.12" r="3.3" fill="#00c400"/>
<circle cx="207.20" cy="1567.91" r="3.3" fill="#00c400"/>
<circle cx="212.00" cy="1565.67" r="3.3" fill="#00c400"/>
<circle cx="207.20" cy="1563.41" r="3.3" fill="#00c400"/>
<circle cx="202.40" cy="1562.26" r="3.3" fill="#00c400"/>
<circle cx="207.20" cy="1558.31" r="3.3" fill="#00c400"/>
<line x1="195.20" y1="1578.73" x2="219.20" y2="1578.73" stroke="#000" stroke-width="3.2" stroke-linecap="butt"/>
<line x1="207.20" y1="1574.56" x2="207.20" y2="1587.96" stroke="#000" stroke-width="2.6" stroke-linecap="butt"/>
<line x1="201.20" y1="1574.56" x2="213.20" y2="1574.56" stroke="#000" stroke-width="2.6" stroke-linecap="butt"/>
<line x1="201.20" y1="1587.96" x2="213.20" y2="1587.96" stroke="#000" stroke-width="2.6" stroke-linecap="butt"/>
<circle cx="235.60" cy="1596.27" r="3.3" fill="#a300e6"/>
<circle cx="240.40" cy="1596.06" r="3.3" fill="#a300e6"/>
<circle cx="230.80" cy="1595.69" r="3.3" fill="#a300e6"/>
<circle cx="245.20" cy="1595.18" r="3.3" fill="#a300e6"/>
<circle cx="226.00" cy="1594.54" r="3.3" fill="#a300e6"/>
<circle cx="232.32" cy="1593.77" r="3.3" fill="#a300e6"/>
<circle cx="237.47" cy="1592.89" r="3.3" fill="#a300e6"/>
<circle cx="237.45" cy="1591.89" r="3.3" fill="#a300e6"/>
<circle cx="242.80" cy="1590.77" r="3.3" fill="#a300e6"/>
<circle cx="230.80" cy="1589.54" r="3.3" fill="#a300e6"/>
<circle cx="226.00" cy="1588.21" r="3.3" fill="#a300e6"/>
<circle cx="235.60" cy="1586.77" r="3.3" fill="#a300e6"/>
<circle cx="240.40" cy="1585.23" r="3.3" fill="#a300e6"/>
<circle cx="232.00" cy="1583.58" r="3.3" fill="#a300e6"/>
<circle cx="236.80" cy="1581.84" r="3.3" fill="#a300e6"/>
<circle cx="241.60" cy="1580.93" r="3.3" fill="#a300e6"/>
<circle cx="235.60" cy="1566.98" r="3.3" fill="#a300e6"/>
<circle cx="235.60" cy="1551.28" r="3.3" fill="#a300e6"/>
<line x1="223.60" y1="1589.71" x2="247.60" y2="1589.71" stroke="#000" stroke-width="3.2" stroke-linecap="butt"/>
<line x1="235.60" y1="1584.22" x2="235.60" y2="1594.65" stroke="#000" stroke-width="2.6" stroke-linecap="butt"/>
<line x1="229.60" y1="1584.22" x2="241.60" y2="1584.22" stroke="#000" stroke-width="2.6" stroke-linecap="butt"/>
<line x1="229.60" y1="1594.65" x2="241.60" y2="1594.65" stroke="#000" stroke-width="2.6" stroke-linecap="butt"/>
<circle cx="264.20" cy="1596.30" r="3.3" fill="#1c9ab9"/>
<circle cx="269.00" cy="1596.30" r="3.3" fill="#1c9ab9"/>
<circle cx="259.40" cy="1596.28" r="3.3" fill="#1c9ab9"/>
<circle cx="273.80" cy="1596.24" r="3.3" fill="#1c9ab9"/>
<circle cx="254.60" cy="1596.15" r="3.3" fill="#1c9ab9"/>
<circle cx="273.09" cy="1595.96" r="3.3" fill="#1c9ab9"/>
<circle cx="268.20" cy="1595.66" r="3.3" fill="#1c9ab9"/>
<circle cx="273.64" cy="1595.18" r="3.3" fill="#1c9ab9"/>
<circle cx="272.04" cy="1594.48" r="3.3" fill="#1c9ab9"/>
<circle cx="275.00" cy="1593.50" r="3.3" fill="#1c9ab9"/>
<circle cx="261.80" cy="1592.17" r="3.3" fill="#1c9ab9"/>
<circle cx="266.60" cy="1590.42" r="3.3" fill="#1c9ab9"/>
<circle cx="259.40" cy="1588.17" r="3.3" fill="#1c9ab9"/>
<circle cx="264.20" cy="1585.35" r="3.3" fill="#1c9ab9"/>
<circle cx="267.80" cy="1581.85" r="3.3" fill="#1c9ab9"/>
<circle cx="264.20" cy="1577.58" r="3.3" fill="#1c9ab9"/>
<circle cx="264.20" cy="1572.44" r="3.3" fill="#1c9ab9"/>
<circle cx="267.80" cy="1569.51" r="3.3" fill="#1c9ab9"/>
<line x1="252.20" y1="1590.48" x2="276.20" y2="1590.48" stroke="#000" stroke-width="3.2" stroke-linecap="butt"/>
<line x1="264.20" y1="1586.42" x2="264.20" y2="1594.65" stroke="#000" stroke-width="2.6" stroke-linecap="butt"/>
<line x1="258.20" y1="1586.42" x2="270.20" y2="1586.42" stroke="#000" stroke-width="2.6" stroke-linecap="butt"/>
<line x1="258.20" y1="1594.65" x2="270.20" y2="1594.65" stroke="#000" stroke-width="2.6" stroke-linecap="butt"/>
<circle cx="317.40" cy="1596.28" r="3.3" fill="#ff0000"/>
<circle cx="322.20" cy="1596.14" r="3.3" fill="#ff0000"/>
<circle cx="312.60" cy="1595.83" r="3.3" fill="#ff0000"/>
<circle cx="327.00" cy="1595.37" r="3.3" fill="#ff0000"/>
<circle cx="307.80" cy="1594.74" r="3.3" fill="#ff0000"/>
<circle cx="321.17" cy="1593.94" r="3.3" fill="#ff0000"/>
<circle cx="309.99" cy="1592.98" r="3.3" fill="#ff0000"/>
<circle cx="316.20" cy="1591.85" r="3.3" fill="#ff0000"/>
<circle cx="324.60" cy="1590.55" r="3.3" fill="#ff0000"/>
<circle cx="319.80" cy="1589.07" r="3.3" fill="#ff0000"/>
<circle cx="315.00" cy="1587.43" r="3.3" fill="#ff0000"/>
<circle cx="323.40" cy="1585.61" r="3.3" fill="#ff0000"/>
<circle cx="317.40" cy="1583.61" r="3.3" fill="#ff0000"/>
<circle cx="312.60" cy="1581.45" r="3.3" fill="#ff0000"/>
<circle cx="317.40" cy="1579.10" r="3.3" fill="#ff0000"/>
<circle cx="321.00" cy="1576.58" r="3.3" fill="#ff0000"/>
<circle cx="317.40" cy="1573.89" r="3.3" fill="#ff0000"/>
<circle cx="321.00" cy="1571.01" r="3.3" fill="#ff0000"/>
<circle cx="316.20" cy="1569.51" r="3.3" fill="#ff0000"/>
<line x1="305.40" y1="1585.87" x2="329.40" y2="1585.87" stroke="#000" stroke-width="3.2" stroke-linecap="butt"/>
<line x1="317.40" y1="1583.12" x2="317.40" y2="1589.71" stroke="#000" stroke-width="2.6" stroke-linecap="butt"/>
<line x1="311.40" y1="1583.12" x2="323.40" y2="1583.12" stroke="#000" stroke-width="2.6" stroke-linecap="butt"/>
<line x1="311.40" y1="1589.71" x2="323.40" y2="1589.71" stroke="#000" stroke-width="2.6" stroke-linecap="butt"/>
<circle cx="346.60" cy="1596.24" r="3.3" fill="#00c400"/>
<circle cx="351.40" cy="1595.80" r="3.3" fill="#00c400"/>
<circle cx="341.80" cy="1595.01" r="3.3" fill="#00c400"/>
<circle cx="356.20" cy="1593.90" r="3.3" fill="#00c400"/>
<circle cx="338.20" cy="1592.47" r="3.3" fill="#00c400"/>
<circle cx="346.60" cy="1590.74" r="3.3" fill="#00c400"/>
<circle cx="351.40" cy="1588.72" r="3.3" fill="#00c400"/>
<circle cx="345.40" cy="1586.42" r="3.3" fill="#00c400"/>
<circle cx="349.00" cy="1583.84" r="3.3" fill="#00c400"/>
<circle cx="345.40" cy="1580.98" r="3.3" fill="#00c400"/>
<circle cx="349.00" cy="1577.85" r="3.3" fill="#00c400"/>
<circle cx="345.40" cy="1574.46" r="3.3" fill="#00c400"/>
<circle cx="347.80" cy="1570.80" r="3.3" fill="#00c400"/>
<circle cx="345.40" cy="1566.88" r="3.3" fill="#00c400"/>
<circle cx="347.80" cy="1562.71" r="3.3" fill="#00c400"/>
<circle cx="346.60" cy="1558.28" r="3.3" fill="#00c400"/>
<circle cx="346.60" cy="1553.61" r="3.3" fill="#00c400"/>
<circle cx="346.60" cy="1548.68" r="3.3" fill="#00c400"/>
<circle cx="350.20" cy="1546.12" r="3.3" fill="#00c400"/>
<line x1="334.60" y1="1575.99" x2="358.60" y2="1575.99" stroke="#000" stroke-width="3.2" stroke-linecap="butt"/>
<line x1="346.60" y1="1565.12" x2="346.60" y2="1587.96" stroke="#000" stroke-width="2.6" stroke-linecap="butt"/>
<line x1="340.60" y1="1565.12" x2="352.60" y2="1565.12" stroke="#000" stroke-width="2.6" stroke-linecap="butt"/>
<line x1="340.60" y1="1587.96" x2="352.60" y2="1587.96" stroke="#000" stroke-width="2.6" stroke-linecap="butt"/>
<circle cx="374.40" cy="1596.25" r="3.3" fill="#a300e6"/>
<circle cx="379.20" cy="1595.93" r="3.3" fill="#a300e6"/>
<circle cx="369.60" cy="1595.31" r="3.3" fill="#a300e6"/>
<circle cx="384.00" cy="1594.44" r="3.3" fill="#a300e6"/>
<circle cx="364.80" cy="1593.30" r="3.3" fill="#a300e6"/>
<circle cx="375.60" cy="1591.92" r="3.3" fill="#a300e6"/>
<circle cx="370.80" cy="1590.29" r="3.3" fill="#a300e6"/>
<circle cx="379.20" cy="1588.42" r="3.3" fill="#a300e6"/>
<circle cx="374.40" cy="1586.32" r="3.3" fill="#a300e6"/>
<circle cx="379.20" cy="1583.98" r="3.3" fill="#a300e6"/>
<circle cx="374.40" cy="1581.41" r="3.3" fill="#a300e6"/>
<circle cx="378.00" cy="1578.62" r="3.3" fill="#a300e6"/>
<circle cx="374.40" cy="1575.59" r="3.3" fill="#a300e6"/>
<circle cx="378.00" cy="1572.35" r="3.3" fill="#a300e6"/>
<circle cx="374.40" cy="1568.88" r="3.3" fill="#a300e6"/>
<circle cx="376.80" cy="1565.19" r="3.3" fill="#a300e6"/>
<circle cx="374.40" cy="1561.28" r="3.3" fill="#a300e6"/>
<circle cx="376.80" cy="1557.16" r="3.3" fill="#a300e6"/>
<circle cx="372.00" cy="1555.02" r="3.3" fill="#a300e6"/>
<line x1="362.40" y1="1580.27" x2="386.40" y2="1580.27" stroke="#000" stroke-width="3.2" stroke-linecap="butt"/>
<line x1="374.40" y1="1575.44" x2="374.40" y2="1589.16" stroke="#000" stroke-width="2.6" stroke-linecap="butt"/>
<line x1="368.40" y1="1575.44" x2="380.40" y2="1575.44" stroke="#000" stroke-width="2.6" stroke-linecap="butt"/>
<line x1="368.40" y1="1589.16" x2="380.40" y2="1589.16" stroke="#000" stroke-width="2.6" stroke-linecap="butt"/>
<circle cx="402.30" cy="1596.29" r="3.3" fill="#1c9ab9"/>
<circle cx="407.10" cy="1596.19" r="3.3" fill="#1c9ab9"/>
<circle cx="397.50" cy="1595.97" r="3.3" fill="#1c9ab9"/>
<circle cx="411.90" cy="1595.62" r="3.3" fill="#1c9ab9"/>
<circle cx="392.70" cy="1595.13" r="3.3" fill="#1c9ab9"/>
<circle cx="410.23" cy="1594.49" r="3.3" fill="#1c9ab9"/>
<circle cx="412.52" cy="1593.70" r="3.3" fill="#1c9ab9"/>
<circle cx="411.20" cy="1592.76" r="3.3" fill="#1c9ab9"/>
<circle cx="402.30" cy="1591.65" r="3.3" fill="#1c9ab9"/>
<circle cx="407.10" cy="1590.39" r="3.3" fill="#1c9ab9"/>
<circle cx="398.70" cy="1588.96" r="3.3" fill="#1c9ab9"/>
<circle cx="403.50" cy="1587.36" r="3.3" fill="#1c9ab9"/>
<circle cx="408.30" cy="1585.58" r="3.3" fill="#1c9ab9"/>
<circle cx="401.10" cy="1583.64" r="3.3" fill="#1c9ab9"/>
<circle cx="405.90" cy="1581.52" r="3.3" fill="#1c9ab9"/>
<circle cx="401.10" cy="1579.22" r="3.3" fill="#1c9ab9"/>
<circle cx="404.70" cy="1576.74" r="3.3" fill="#1c9ab9"/>
<circle cx="398.70" cy="1575.44" r="3.3" fill="#1c9ab9"/>
<line x1="390.30" y1="1589.16" x2="414.30" y2="1589.16" stroke="#000" stroke-width="3.2" stroke-linecap="butt"/>
<line x1="402.30" y1="1585.32" x2="402.30" y2="1593.01" stroke="#000" stroke-width="2.6" stroke-linecap="butt"/>
<line x1="396.30" y1="1585.32" x2="408.30" y2="1585.32" stroke="#000" stroke-width="2.6" stroke-linecap="butt"/>
<line x1="396.30" y1="1593.01" x2="408.30" y2="1593.01" stroke="#000" stroke-width="2.6" stroke-linecap="butt"/>
<circle cx="455.30" cy="1596.30" r="3.3" fill="#ff0000"/>
<circle cx="460.10" cy="1596.30" r="3.3" fill="#ff0000"/>
<circle cx="450.50" cy="1596.29" r="3.3" fill="#ff0000"/>
<circle cx="464.90" cy="1596.28" r="3.3" fill="#ff0000"/>
<circle cx="445.70" cy="1596.22" r="3.3" fill="#ff0000"/>
<circle cx="456.82" cy="1596.11" r="3.3" fill="#ff0000"/>
<circle cx="460.00" cy="1595.89" r="3.3" fill="#ff0000"/>
<circle cx="448.94" cy="1595.52" r="3.3" fill="#ff0000"/>
<circle cx="462.60" cy="1594.91" r="3.3" fill="#ff0000"/>
<circle cx="456.92" cy="1594.00" r="3.3" fill="#ff0000"/>
<circle cx="450.57" cy="1592.68" r="3.3" fill="#ff0000"/>
<circle cx="460.10" cy="1590.82" r="3.3" fill="#ff0000"/>
<circle cx="455.30" cy="1588.30" r="3.3" fill="#ff0000"/>
<circle cx="458.90" cy="1584.95" r="3.3" fill="#ff0000"/>
<circle cx="454.10" cy="1582.90" r="3.3" fill="#ff0000"/>
<line x1="443.30" y1="1594.10" x2="467.30" y2="1594.10" stroke="#000" stroke-width="3.2" stroke-linecap="butt"/>
<line x1="455.30" y1="1592.46" x2="455.30" y2="1595.42" stroke="#000" stroke-width="2.6" stroke-linecap="butt"/>
<line x1="449.30" y1="1592.46" x2="461.30" y2="1592.46" stroke="#000" stroke-width="2.6" stroke-linecap="butt"/>
<line x1="449.30" y1="1595.42" x2="461.30" y2="1595.42" stroke="#000" stroke-width="2.6" stroke-linecap="butt"/>
<circle cx="483.10" cy="1596.20" r="3.3" fill="#00c400"/>
<circle cx="487.90" cy="1595.72" r="3.3" fill="#00c400"/>
<circle cx="478.30" cy="1594.98" r="3.3" fill="#00c400"/>
<circle cx="492.70" cy="1594.04" r="3.3" fill="#00c400"/>
<circle cx="473.50" cy="1592.91" r="3.3" fill="#00c400"/>
<circle cx="483.10" cy="1591.62" r="3.3" fill="#00c400"/>
<circle cx="487.90" cy="1590.18" r="3.3" fill="#00c400"/>
<circle cx="479.50" cy="1588.60" r="3.3" fill="#00c400"/>
<circle cx="484.30" cy="1586.88" r="3.3" fill="#00c400"/>
<circle cx="489.10" cy="1585.03" r="3.3" fill="#00c400"/>
<circle cx="481.90" cy="1583.06" r="3.3" fill="#00c400"/>
<circle cx="486.70" cy="1580.98" r="3.3" fill="#00c400"/>
<circle cx="480.70" cy="1578.77" r="3.3" fill="#00c400"/>
<circle cx="485.50" cy="1576.46" r="3.3" fill="#00c400"/>
<circle cx="480.70" cy="1574.05" r="3.3" fill="#00c400"/>
<circle cx="484.30" cy="1571.53" r="3.3" fill="#00c400"/>
<circle cx="480.70" cy="1568.90" r="3.3" fill="#00c400"/>
<circle cx="484.30" cy="1566.18" r="3.3" fill="#00c400"/>
<circle cx="478.30" cy="1564.79" r="3.3" fill="#00c400"/>
<line x1="471.10" y1="1581.81" x2="495.10" y2="1581.81" stroke="#000" stroke-width="3.2" stroke-linecap="butt"/>
<line x1="483.10" y1="1573.90" x2="483.10" y2="1590.81" stroke="#000" stroke-width="2.6" stroke-linecap="butt"/>
<line x1="477.10" y1="1573.90" x2="489.10" y2="1573.90" stroke="#000" stroke-width="2.6" stroke-linecap="butt"/>
<line x1="477.10" y1="1590.81" x2="489.10" y2="1590.81" stroke="#000" stroke-width="2.6" stroke-linecap="butt"/>
<circle cx="511.90" cy="1596.30" r="3.3" fill="#a300e6"/>
<circle cx="516.70" cy="1596.27" r="3.3" fill="#a300e6"/>
<circle cx="507.10" cy="1596.20" r="3.3" fill="#a300e6"/>
<circle cx="521.50" cy="1596.08" r="3.3" fill="#a300e6"/>
<circle cx="502.30" cy="1595.91" r="3.3" fill="#a300e6"/>
<circle cx="502.30" cy="1595.68" r="3.3" fill="#a300e6"/>
<circle cx="519.69" cy="1595.38" r="3.3" fill="#a300e6"/>
<circle cx="522.68" cy="1595.02" r="3.3" fill="#a300e6"/>
<circle cx="502.85" cy="1594.59" r="3.3" fill="#a300e6"/>
<circle cx="518.51" cy="1594.08" r="3.3" fill="#a300e6"/>
<circle cx="509.93" cy="1593.49" r="3.3" fill="#a300e6"/>
<circle cx="504.22" cy="1592.83" r="3.3" fill="#a300e6"/>
<circle cx="514.30" cy="1592.09" r="3.3" fill="#a300e6"/>
<circle cx="507.37" cy="1591.26" r="3.3" fill="#a300e6"/>
<circle cx="521.50" cy="1590.81" r="3.3" fill="#a300e6"/>
<line x1="499.90" y1="1594.98" x2="523.90" y2="1594.98" stroke="#000" stroke-width="3.2" stroke-linecap="butt"/>
<line x1="511.90" y1="1594.10" x2="511.90" y2="1595.75" stroke="#000" stroke-width="2.6" stroke-linecap="butt"/>
<line x1="505.90" y1="1594.10" x2="517.90" y2="1594.10" stroke="#000" stroke-width="2.6" stroke-linecap="butt"/>
<line x1="505.90" y1="1595.75" x2="517.90" y2="1595.75" stroke="#000" stroke-width="2.6" stroke-linecap="butt"/>
<circle cx="539.80" cy="1595.28" r="3.3" fill="#1c9ab9"/>
<circle cx="544.60" cy="1593.80" r="3.3" fill="#1c9ab9"/>
<circle cx="536.20" cy="1592.52" r="3.3" fill="#1c9ab9"/>
<circle cx="548.20" cy="1591.33" r="3.3" fill="#1c9ab9"/>
<circle cx="541.00" cy="1590.21" r="3.3" fill="#1c9ab9"/>
<circle cx="532.60" cy="1589.13" r="3.3" fill="#1c9ab9"/>
<circle cx="545.71" cy="1588.09" r="3.3" fill="#1c9ab9"/>
<circle cx="537.40" cy="1587.08" r="3.3" fill="#1c9ab9"/>
<circle cx="550.60" cy="1586.10" r="3.3" fill="#1c9ab9"/>
<circle cx="542.20" cy="1585.14" r="3.3" fill="#1c9ab9"/>
<circle cx="533.80" cy="1584.19" r="3.3" fill="#1c9ab9"/>
<circle cx="547.00" cy="1583.27" r="3.3" fill="#1c9ab9"/>
<circle cx="538.60" cy="1582.35" r="3.3" fill="#1c9ab9"/>
<circle cx="530.20" cy="1581.45" r="3.3" fill="#1c9ab9"/>
<circle cx="543.40" cy="1580.57" r="3.3" fill="#1c9ab9"/>
<circle cx="535.00" cy="1579.69" r="3.3" fill="#1c9ab9"/>
<circle cx="548.20" cy="1578.83" r="3.3" fill="#1c9ab9"/>
<circle cx="548.00" cy="1578.40" r="3.3" fill="#1c9ab9"/>
<circle cx="539.80" cy="1564.46" r="3.3" fill="#1c9ab9"/>
<line x1="527.80" y1="1584.66" x2="551.80" y2="1584.66" stroke="#000" stroke-width="3.2" stroke-linecap="butt"/>
<line x1="539.80" y1="1581.81" x2="539.80" y2="1587.52" stroke="#000" stroke-width="2.6" stroke-linecap="butt"/>
<line x1="533.80" y1="1581.81" x2="545.80" y2="1581.81" stroke="#000" stroke-width="2.6" stroke-linecap="butt"/>
<line x1="533.80" y1="1587.52" x2="545.80" y2="1587.52" stroke="#000" stroke-width="2.6" stroke-linecap="butt"/>
<text transform="translate(63.74,1305.50) scale(0.9543,1.0301)" font-size="78" fill="#000" color="#000" stroke-width="0.0">i</text>
<text x="320.22" y="1275.60" font-size="34" fill="#000" color="#000" stroke-width="0.45">Patient 6</text>
<path d="M176.80,1504.30 V1490.90 H317.40 V1504.30" fill="none" stroke="#ff0000" stroke-width="4.2" stroke-linejoin="miter"/>
<text x="189.02" y="1479.80" font-size="30" fill="#ff0000" color="#ff0000" stroke-width="0.45">p=0.0028</text>
<path d="M312.50,1379.40 V1366.50 H452.30 V1379.40" fill="none" stroke="#ff0000" stroke-width="4.2" stroke-linejoin="miter"/>
<text x="324.02" y="1355.00" font-size="30" fill="#ff0000" color="#ff0000" stroke-width="0.45">p&lt;0.0001</text>
<path d="M347.60,1427.70 V1414.70 H487.70 V1427.70" fill="none" stroke="#00c400" stroke-width="4.2" stroke-linejoin="miter"/>
<text x="358.02" y="1402.70" font-size="30" fill="#00c400" color="#00c400" stroke-width="0.45">p=0.0355</text>
<path d="M374.30,1478.00 V1465.00 H514.20 V1478.00" fill="none" stroke="#a300e6" stroke-width="4.2" stroke-linejoin="miter"/>
<text x="386.82" y="1452.60" font-size="30" fill="#a300e6" color="#a300e6" stroke-width="0.45">p&lt;0.0001</text>
<text x="411.98" y="1541.00" font-size="27" fill="#ff0000" color="#ff0000" stroke-width="0.45" font-weight="bold">G2</text>
<line x1="428.70" y1="1555.70" x2="428.70" y2="1582.00" stroke="#ff0000" stroke-width="2.6" stroke-linecap="butt"/>
<path d="M424.10,1578.00 L433.30,1578.00 L428.70,1592.00 Z" fill="#ff0000"/>
<text x="577.84" y="1602.20" font-size="27" fill="#0000ff" color="#0000ff" stroke-width="0.45" font-weight="bold">PR</text>
<circle cx="642.9" cy="1341.7" r="3.3" fill="#ff0000"/>
<text x="659.18" y="1351.00" font-size="28.5" fill="#000" color="#000" stroke-width="0.45">FGF-2</text>
<circle cx="642.9" cy="1383" r="3.3" fill="#00c400"/>
<text x="658.83" y="1392.30" font-size="28.5" fill="#000" color="#000" stroke-width="0.45">G-CSF</text>
<circle cx="642.9" cy="1424.7" r="3.3" fill="#a300e6"/>
<text x="658.83" y="1434.00" font-size="28.5" fill="#000" color="#000" stroke-width="0.45">GM-CSF</text>
<circle cx="642.9" cy="1466.3" r="3.3" fill="#1c9ab9"/>
<text x="658.83" y="1475.60" font-size="28.5" fill="#000" color="#000" stroke-width="0.45">CX3CL1</text>
<line x1="884.50" y1="449.30" x2="884.50" y2="738.10" stroke="#000" stroke-width="5.2" stroke-linecap="butt"/>
<line x1="881.90" y1="735.50" x2="1312.00" y2="735.50" stroke="#000" stroke-width="5.2" stroke-linecap="butt"/>
<line x1="871.00" y1="451.50" x2="884.50" y2="451.50" stroke="#000" stroke-width="5" stroke-linecap="butt"/>
<text x="850.64" y="460.77" font-size="28" fill="#000" color="#000" stroke-width="0.45">2</text>
<line x1="871.00" y1="522.10" x2="884.50" y2="522.10" stroke="#000" stroke-width="5" stroke-linecap="butt"/>
<text x="850.17" y="531.27" font-size="28" fill="#000" color="#000" stroke-width="0.45">0</text>
<line x1="871.00" y1="593.20" x2="884.50" y2="593.20" stroke="#000" stroke-width="5" stroke-linecap="butt"/>
<text x="841.32" y="602.47" font-size="28" fill="#000" color="#000" stroke-width="0.45">-2</text>
<line x1="871.00" y1="664.30" x2="884.50" y2="664.30" stroke="#000" stroke-width="5" stroke-linecap="butt"/>
<text x="840.21" y="673.51" font-size="28" fill="#000" color="#000" stroke-width="0.45">-4</text>
<line x1="871.00" y1="735.50" x2="884.50" y2="735.50" stroke="#000" stroke-width="5" stroke-linecap="butt"/>
<text x="840.61" y="744.63" font-size="28" fill="#000" color="#000" stroke-width="0.45">-6</text>
<line x1="884.30" y1="735.50" x2="884.30" y2="748.70" stroke="#000" stroke-width="5.2" stroke-linecap="butt"/>
<text x="872.54" y="780.00" font-size="28" fill="#000" color="#000" stroke-width="0.45">-6</text>
<line x1="990.60" y1="735.50" x2="990.60" y2="748.70" stroke="#000" stroke-width="5.2" stroke-linecap="butt"/>
<text x="978.64" y="780.00" font-size="28" fill="#000" color="#000" stroke-width="0.45">-4</text>
<line x1="1096.90" y1="735.50" x2="1096.90" y2="748.70" stroke="#000" stroke-width="5.2" stroke-linecap="butt"/>
<text x="1085.49" y="780.00" font-size="28" fill="#000" color="#000" stroke-width="0.45">-2</text>
<line x1="1203.20" y1="735.50" x2="1203.20" y2="748.70" stroke="#000" stroke-width="5.2" stroke-linecap="butt"/>
<text x="1196.20" y="780.00" font-size="28" fill="#000" color="#000" stroke-width="0.45">0</text>
<line x1="1309.50" y1="735.50" x2="1309.50" y2="748.70" stroke="#000" stroke-width="5.2" stroke-linecap="butt"/>
<text x="1302.66" y="780.00" font-size="28" fill="#000" color="#000" stroke-width="0.45">2</text>
<text x="977.75" y="813.00" font-size="32" fill="#000" color="#000" stroke-width="0.45">First Discriminant</text>
<text transform="translate(826.00,738.62) rotate(-90)" font-size="32" fill="#000" color="#000" stroke-width="0.45">Second Discriminant</text>
<text x="1039.82" y="415.50" font-size="34" fill="#000" color="#000" stroke-width="0.45">Patient 1</text>
<path d="M920.30,530.00 L925.00,538.50 L915.60,538.50 Z" fill="#0000ff"/>
<path d="M968.00,489.70 L972.70,498.20 L963.30,498.20 Z" fill="#0000ff"/>
<path d="M995.10,470.60 L999.80,479.10 L990.40,479.10 Z" fill="#0000ff"/>
<path d="M998.80,476.40 L1003.50,484.90 L994.10,484.90 Z" fill="#0000ff"/>
<path d="M1028.90,498.20 L1033.60,506.70 L1024.20,506.70 Z" fill="#0000ff"/>
<path d="M1067.70,477.60 L1072.40,486.10 L1063.00,486.10 Z" fill="#0000ff"/>
<path d="M1074.30,515.40 L1079.00,523.90 L1069.60,523.90 Z" fill="#0000ff"/>
<path d="M1097.00,470.40 L1101.70,478.90 L1092.30,478.90 Z" fill="#0000ff"/>
<path d="M1012.70,569.60 L1017.40,578.10 L1008.00,578.10 Z" fill="#0000ff"/>
<path d="M1067.70,582.10 L1072.40,590.60 L1063.00,590.60 Z" fill="#0000ff"/>
<path d="M1062.60,680.00 L1067.30,688.50 L1057.90,688.50 Z" fill="#0000ff"/>
<path d="M1132.80,474.50 L1137.50,483.00 L1128.10,483.00 Z" fill="#0000ff"/>
<path d="M1147.50,477.40 L1152.20,485.90 L1142.80,485.90 Z" fill="#0000ff"/>
<path d="M1119.30,486.50 L1124.00,495.00 L1114.60,495.00 Z" fill="#0000ff"/>
<path d="M1103.50,500.10 L1108.20,508.60 L1098.80,508.60 Z" fill="#0000ff"/>
<path d="M1135.00,496.20 L1139.70,504.70 L1130.30,504.70 Z" fill="#0000ff"/>
<path d="M1128.40,537.50 L1133.10,546.00 L1123.70,546.00 Z" fill="#0000ff"/>
<path d="M1183.10,490.60 L1187.80,499.10 L1178.40,499.10 Z" fill="#0000ff"/>
<path d="M1177.50,511.10 L1182.20,519.60 L1172.80,519.60 Z" fill="#0000ff"/>
<path d="M1208.00,490.60 L1212.70,499.10 L1203.30,499.10 Z" fill="#0000ff"/>
<path d="M1212.40,493.20 L1217.10,501.70 L1207.70,501.70 Z" fill="#0000ff"/>
<path d="M1207.60,515.50 L1212.30,524.00 L1202.90,524.00 Z" fill="#0000ff"/>
<path d="M1219.30,500.90 L1224.00,509.40 L1214.60,509.40 Z" fill="#0000ff"/>
<path d="M1224.50,495.00 L1229.20,503.50 L1219.80,503.50 Z" fill="#0000ff"/>
<path d="M1234.70,505.30 L1239.40,513.80 L1230.00,513.80 Z" fill="#0000ff"/>
<path d="M1181.00,590.80 L1185.70,599.30 L1176.30,599.30 Z" fill="#0000ff"/>
<path d="M1183.30,669.60 L1188.00,678.10 L1178.60,678.10 Z" fill="#0000ff"/>
<rect x="1181.30" y="508.90" width="9.2" height="9.2" fill="#00c000"/>
<rect x="1193.20" y="506.70" width="9.2" height="9.2" fill="#00c000"/>
<rect x="1238.90" y="497.20" width="9.2" height="9.2" fill="#00c000"/>
<rect x="1255.80" y="495.00" width="9.2" height="9.2" fill="#00c000"/>
<rect x="1267.50" y="511.10" width="9.2" height="9.2" fill="#00c000"/>
<rect x="1233.80" y="519.90" width="9.2" height="9.2" fill="#00c000"/>
<rect x="1241.10" y="518.50" width="9.2" height="9.2" fill="#00c000"/>
<rect x="1248.50" y="515.50" width="9.2" height="9.2" fill="#00c000"/>
<rect x="1237.90" y="531.40" width="9.2" height="9.2" fill="#00c000"/>
<rect x="1210.30" y="537.20" width="9.2" height="9.2" fill="#00c000"/>
<rect x="1227.90" y="539.00" width="9.2" height="9.2" fill="#00c000"/>
<rect x="1235.30" y="543.40" width="9.2" height="9.2" fill="#00c000"/>
<rect x="1248.50" y="543.40" width="9.2" height="9.2" fill="#00c000"/>
<rect x="1220.60" y="547.10" width="9.2" height="9.2" fill="#00c000"/>
<rect x="1225.00" y="550.00" width="9.2" height="9.2" fill="#00c000"/>
<rect x="1202.70" y="554.40" width="9.2" height="9.2" fill="#00c000"/>
<rect x="1243.80" y="560.30" width="9.2" height="9.2" fill="#00c000"/>
<rect x="1250.70" y="557.30" width="9.2" height="9.2" fill="#00c000"/>
<rect x="1258.00" y="554.00" width="9.2" height="9.2" fill="#00c000"/>
<rect x="1227.90" y="567.60" width="9.2" height="9.2" fill="#00c000"/>
<rect x="1273.10" y="568.60" width="9.2" height="9.2" fill="#00c000"/>
<circle cx="1233.30" cy="494.90" r="4.6" fill="#ff0000"/>
<circle cx="1228.90" cy="498.40" r="4.6" fill="#ff0000"/>
<circle cx="1225.90" cy="505.80" r="4.6" fill="#ff0000"/>
<circle cx="1240.60" cy="502.50" r="4.6" fill="#ff0000"/>
<circle cx="1196.60" cy="515.70" r="4.6" fill="#ff0000"/>
<circle cx="1244.30" cy="512.80" r="4.6" fill="#ff0000"/>
<circle cx="1253.10" cy="517.50" r="4.6" fill="#ff0000"/>
<circle cx="1256.00" cy="499.60" r="4.6" fill="#ff0000"/>
<circle cx="1254.50" cy="504.00" r="4.6" fill="#ff0000"/>
<circle cx="1257.50" cy="508.40" r="4.6" fill="#ff0000"/>
<circle cx="1262.60" cy="503.30" r="4.6" fill="#ff0000"/>
<circle cx="1267.00" cy="502.50" r="4.6" fill="#ff0000"/>
<circle cx="1270.70" cy="505.50" r="4.6" fill="#ff0000"/>
<circle cx="1268.50" cy="512.10" r="4.6" fill="#ff0000"/>
<circle cx="1263.30" cy="519.40" r="4.6" fill="#ff0000"/>
<circle cx="1269.90" cy="523.10" r="4.6" fill="#ff0000"/>
<circle cx="1267.70" cy="528.20" r="4.6" fill="#ff0000"/>
<circle cx="1261.90" cy="529.70" r="4.6" fill="#ff0000"/>
<circle cx="1217.60" cy="534.10" r="4.6" fill="#ff0000"/>
<circle cx="1257.50" cy="557.50" r="4.6" fill="#ff0000"/>
<circle cx="1321.00" cy="473.20" r="4.6" fill="#ff0000"/>
<text x="1340.36" y="480.50" font-size="29" fill="#000" color="#000" stroke-width="0.45">Day 7</text>
<rect x="1316.40" y="511.40" width="9.2" height="9.2" fill="#00c000"/>
<text x="1340.36" y="524.00" font-size="29" fill="#000" color="#000" stroke-width="0.45">Day 21</text>
<path d="M1321.00,554.40 L1325.70,562.90 L1316.30,562.90 Z" fill="#0000ff"/>
<text x="1340.36" y="567.00" font-size="29" fill="#000" color="#000" stroke-width="0.45">Day 42</text>
<text transform="translate(801.20,437.95) scale(1.0184,0.9783)" font-size="78" fill="#000" color="#000" stroke-width="0.0">e</text>
<line x1="878.30" y1="1316.20" x2="878.30" y2="1605.10" stroke="#000" stroke-width="5.2" stroke-linecap="butt"/>
<line x1="875.70" y1="1602.50" x2="1306.00" y2="1602.50" stroke="#000" stroke-width="5.2" stroke-linecap="butt"/>
<line x1="864.80" y1="1318.80" x2="878.30" y2="1318.80" stroke="#000" stroke-width="5" stroke-linecap="butt"/>
<text x="843.94" y="1328.01" font-size="28" fill="#000" color="#000" stroke-width="0.45">4</text>
<line x1="864.80" y1="1389.60" x2="878.30" y2="1389.60" stroke="#000" stroke-width="5" stroke-linecap="butt"/>
<text x="845.04" y="1398.87" font-size="28" fill="#000" color="#000" stroke-width="0.45">2</text>
<line x1="864.80" y1="1460.40" x2="878.30" y2="1460.40" stroke="#000" stroke-width="5" stroke-linecap="butt"/>
<text x="844.57" y="1469.57" font-size="28" fill="#000" color="#000" stroke-width="0.45">0</text>
<line x1="864.80" y1="1531.20" x2="878.30" y2="1531.20" stroke="#000" stroke-width="5" stroke-linecap="butt"/>
<text x="835.72" y="1540.47" font-size="28" fill="#000" color="#000" stroke-width="0.45">-2</text>
<line x1="864.80" y1="1602.00" x2="878.30" y2="1602.00" stroke="#000" stroke-width="5" stroke-linecap="butt"/>
<text x="834.61" y="1611.21" font-size="28" fill="#000" color="#000" stroke-width="0.45">-4</text>
<line x1="878.30" y1="1602.50" x2="878.30" y2="1615.70" stroke="#000" stroke-width="5.2" stroke-linecap="butt"/>
<text x="866.34" y="1651.00" font-size="28" fill="#000" color="#000" stroke-width="0.45">-4</text>
<line x1="984.50" y1="1602.50" x2="984.50" y2="1615.70" stroke="#000" stroke-width="5.2" stroke-linecap="butt"/>
<text x="973.09" y="1651.00" font-size="28" fill="#000" color="#000" stroke-width="0.45">-2</text>
<line x1="1090.80" y1="1602.50" x2="1090.80" y2="1615.70" stroke="#000" stroke-width="5.2" stroke-linecap="butt"/>
<text x="1083.80" y="1651.00" font-size="28" fill="#000" color="#000" stroke-width="0.45">0</text>
<line x1="1197.00" y1="1602.50" x2="1197.00" y2="1615.70" stroke="#000" stroke-width="5.2" stroke-linecap="butt"/>
<text x="1190.16" y="1651.00" font-size="28" fill="#000" color="#000" stroke-width="0.45">2</text>
<line x1="1303.30" y1="1602.50" x2="1303.30" y2="1615.70" stroke="#000" stroke-width="5.2" stroke-linecap="butt"/>
<text x="1296.25" y="1651.00" font-size="28" fill="#000" color="#000" stroke-width="0.45">4</text>
<text x="972.75" y="1686.50" font-size="32" fill="#000" color="#000" stroke-width="0.45">First Discriminant</text>
<text transform="translate(822.90,1598.56) rotate(-90)" font-size="30.5" fill="#000" color="#000" stroke-width="0.45">Second Discriminant</text>
<text x="1042.22" y="1275.90" font-size="34" fill="#000" color="#000" stroke-width="0.45">Patient 6</text>
<path d="M919.30,1362.00 L924.00,1370.50 L914.60,1370.50 Z" fill="#0000ff"/>
<path d="M986.30,1429.80 L991.00,1438.30 L981.60,1438.30 Z" fill="#0000ff"/>
<path d="M988.50,1434.50 L993.20,1443.00 L983.80,1443.00 Z" fill="#0000ff"/>
<path d="M1003.20,1433.90 L1007.90,1442.40 L998.50,1442.40 Z" fill="#0000ff"/>
<path d="M1012.00,1438.60 L1016.70,1447.10 L1007.30,1447.10 Z" fill="#0000ff"/>
<path d="M1009.10,1441.50 L1013.80,1450.00 L1004.40,1450.00 Z" fill="#0000ff"/>
<path d="M1004.70,1444.50 L1009.40,1453.00 L1000.00,1453.00 Z" fill="#0000ff"/>
<path d="M1014.90,1445.20 L1019.60,1453.70 L1010.20,1453.70 Z" fill="#0000ff"/>
<path d="M1008.30,1448.10 L1013.00,1456.60 L1003.60,1456.60 Z" fill="#0000ff"/>
<path d="M982.70,1449.60 L987.40,1458.10 L978.00,1458.10 Z" fill="#0000ff"/>
<path d="M1025.90,1451.10 L1030.60,1459.60 L1021.20,1459.60 Z" fill="#0000ff"/>
<path d="M1034.70,1449.60 L1039.40,1458.10 L1030.00,1458.10 Z" fill="#0000ff"/>
<path d="M1037.40,1424.70 L1042.10,1433.20 L1032.70,1433.20 Z" fill="#0000ff"/>
<path d="M1063.30,1432.70 L1068.00,1441.20 L1058.60,1441.20 Z" fill="#0000ff"/>
<path d="M1057.50,1454.00 L1062.20,1462.50 L1052.80,1462.50 Z" fill="#0000ff"/>
<path d="M987.40,1461.30 L992.10,1469.80 L982.70,1469.80 Z" fill="#0000ff"/>
<path d="M988.80,1467.20 L993.50,1475.70 L984.10,1475.70 Z" fill="#0000ff"/>
<path d="M985.30,1472.00 L990.00,1480.50 L980.60,1480.50 Z" fill="#0000ff"/>
<path d="M1033.70,1471.20 L1038.40,1479.70 L1029.00,1479.70 Z" fill="#0000ff"/>
<path d="M1032.50,1484.80 L1037.20,1493.30 L1027.80,1493.30 Z" fill="#0000ff"/>
<path d="M1056.70,1482.60 L1061.40,1491.10 L1052.00,1491.10 Z" fill="#0000ff"/>
<path d="M1082.80,1466.50 L1087.50,1475.00 L1078.10,1475.00 Z" fill="#0000ff"/>
<path d="M1038.80,1497.30 L1043.50,1505.80 L1034.10,1505.80 Z" fill="#0000ff"/>
<path d="M1057.50,1497.30 L1062.20,1505.80 L1052.80,1505.80 Z" fill="#0000ff"/>
<path d="M1057.90,1502.00 L1062.60,1510.50 L1053.20,1510.50 Z" fill="#0000ff"/>
<path d="M1094.90,1363.80 L1099.60,1372.30 L1090.20,1372.30 Z" fill="#0000ff"/>
<rect x="1063.10" y="1436.40" width="9.2" height="9.2" fill="#00c000"/>
<rect x="1073.40" y="1429.80" width="9.2" height="9.2" fill="#00c000"/>
<rect x="1074.90" y="1445.60" width="9.2" height="9.2" fill="#00c000"/>
<rect x="1063.10" y="1460.90" width="9.2" height="9.2" fill="#00c000"/>
<rect x="1059.50" y="1485.80" width="9.2" height="9.2" fill="#00c000"/>
<rect x="1095.40" y="1454.70" width="9.2" height="9.2" fill="#00c000"/>
<rect x="1129.40" y="1387.80" width="9.2" height="9.2" fill="#00c000"/>
<rect x="1164.30" y="1406.20" width="9.2" height="9.2" fill="#00c000"/>
<rect x="1244.80" y="1369.50" width="9.2" height="9.2" fill="#00c000"/>
<rect x="1283.50" y="1363.70" width="9.2" height="9.2" fill="#00c000"/>
<rect x="1144.70" y="1425.80" width="9.2" height="9.2" fill="#00c000"/>
<rect x="1116.80" y="1436.80" width="9.2" height="9.2" fill="#00c000"/>
<rect x="1106.40" y="1439.60" width="9.2" height="9.2" fill="#00c000"/>
<rect x="1097.60" y="1454.60" width="9.2" height="9.2" fill="#00c000"/>
<rect x="1101.50" y="1466.90" width="9.2" height="9.2" fill="#00c000"/>
<rect x="1098.40" y="1463.40" width="9.2" height="9.2" fill="#00c000"/>
<rect x="1116.00" y="1468.70" width="9.2" height="9.2" fill="#00c000"/>
<rect x="1136.70" y="1470.30" width="9.2" height="9.2" fill="#00c000"/>
<rect x="1144.40" y="1467.20" width="9.2" height="9.2" fill="#00c000"/>
<rect x="1157.40" y="1468.00" width="9.2" height="9.2" fill="#00c000"/>
<rect x="1165.10" y="1471.00" width="9.2" height="9.2" fill="#00c000"/>
<rect x="1174.80" y="1454.90" width="9.2" height="9.2" fill="#00c000"/>
<rect x="1173.50" y="1480.70" width="9.2" height="9.2" fill="#00c000"/>
<rect x="1198.80" y="1464.40" width="9.2" height="9.2" fill="#00c000"/>
<rect x="1218.80" y="1449.10" width="9.2" height="9.2" fill="#00c000"/>
<rect x="1247.40" y="1443.00" width="9.2" height="9.2" fill="#00c000"/>
<rect x="1277.00" y="1428.90" width="9.2" height="9.2" fill="#00c000"/>
<rect x="1155.10" y="1517.50" width="9.2" height="9.2" fill="#00c000"/>
<circle cx="960.20" cy="1429.00" r="4.6" fill="#ff0000"/>
<circle cx="1073.30" cy="1395.50" r="4.6" fill="#ff0000"/>
<circle cx="1037.40" cy="1471.10" r="4.6" fill="#ff0000"/>
<circle cx="1053.80" cy="1475.50" r="4.6" fill="#ff0000"/>
<circle cx="1063.00" cy="1470.80" r="4.6" fill="#ff0000"/>
<circle cx="1081.20" cy="1435.90" r="4.6" fill="#ff0000"/>
<circle cx="1082.10" cy="1455.70" r="4.6" fill="#ff0000"/>
<circle cx="1094.90" cy="1445.00" r="4.6" fill="#ff0000"/>
<circle cx="1093.40" cy="1464.50" r="4.6" fill="#ff0000"/>
<circle cx="1094.10" cy="1472.50" r="4.6" fill="#ff0000"/>
<circle cx="1093.40" cy="1480.60" r="4.6" fill="#ff0000"/>
<circle cx="1088.30" cy="1486.50" r="4.6" fill="#ff0000"/>
<circle cx="1095.60" cy="1486.50" r="4.6" fill="#ff0000"/>
<circle cx="1097.80" cy="1496.70" r="4.6" fill="#ff0000"/>
<circle cx="1092.40" cy="1508.50" r="4.6" fill="#ff0000"/>
<circle cx="1053.80" cy="1512.10" r="4.6" fill="#ff0000"/>
<circle cx="1064.10" cy="1515.10" r="4.6" fill="#ff0000"/>
<circle cx="1100.00" cy="1432.20" r="4.6" fill="#ff0000"/>
<circle cx="1102.70" cy="1432.70" r="4.6" fill="#ff0000"/>
<circle cx="1096.90" cy="1470.30" r="4.6" fill="#ff0000"/>
<circle cx="1103.80" cy="1483.30" r="4.6" fill="#ff0000"/>
<circle cx="1114.00" cy="1508.30" r="4.6" fill="#ff0000"/>
<circle cx="1111.40" cy="1518.60" r="4.6" fill="#ff0000"/>
<circle cx="1149.80" cy="1425.50" r="4.6" fill="#ff0000"/>
<circle cx="1162.50" cy="1432.70" r="4.6" fill="#ff0000"/>
<circle cx="1255.60" cy="1484.80" r="4.6" fill="#ff0000"/>
<circle cx="1201.10" cy="1544.60" r="4.6" fill="#ff0000"/>
<circle cx="1133.40" cy="1567.20" r="4.6" fill="#ff0000"/>
<circle cx="1323.80" cy="1340.00" r="4.6" fill="#ff0000"/>
<text x="1341.16" y="1347.50" font-size="29" fill="#000" color="#000" stroke-width="0.45">Day 0</text>
<rect x="1319.20" y="1378.40" width="9.2" height="9.2" fill="#00c000"/>
<text x="1341.16" y="1391.00" font-size="29" fill="#000" color="#000" stroke-width="0.45">Day 21</text>
<path d="M1323.80,1421.90 L1328.50,1430.40 L1319.10,1430.40 Z" fill="#0000ff"/>
<text x="1341.16" y="1434.00" font-size="29" fill="#000" color="#000" stroke-width="0.45">Day 42</text>
<text transform="translate(806.78,1288.37) scale(1.2373,1.0198)" font-size="78" fill="#000" color="#000" stroke-width="0.0">j</text>
<rect x="17" y="1762" width="253.40" height="25.6" fill="url(#cb0)" stroke="#888" stroke-width="0.6"/>
<text x="63.91" y="1753.00" font-size="38" fill="#000" color="#000" stroke-width="0.45">DTMBA</text>
<text x="73.91" y="1822.16" font-size="38" fill="#000" color="#000" stroke-width="0.45">FGF-2</text>
<rect x="419.6" y="1762" width="254.00" height="25.6" fill="url(#cb1)" stroke="#888" stroke-width="0.6"/>
<text x="498.91" y="1753.00" font-size="38" fill="#000" color="#000" stroke-width="0.45">MBA</text>
<text x="486.44" y="1822.16" font-size="38" fill="#000" color="#000" stroke-width="0.45">G-CSF</text>
<rect x="821.6" y="1762" width="253.40" height="25.6" fill="url(#cb2)" stroke="#888" stroke-width="0.6"/>
<text x="872.31" y="1753.00" font-size="38" fill="#000" color="#000" stroke-width="0.45">TFMBA</text>
<text x="870.04" y="1822.16" font-size="38" fill="#000" color="#000" stroke-width="0.45">GM-CSF</text>
<rect x="1225.4" y="1762" width="253.20" height="25.6" fill="url(#cb3)" stroke="#888" stroke-width="0.6"/>
<text x="1272.91" y="1753.00" font-size="38" fill="#000" color="#000" stroke-width="0.45">MMTAA</text>
<text x="1273.44" y="1822.16" font-size="38" fill="#000" color="#000" stroke-width="0.45">CX3CL1</text>
</svg></body></html>
